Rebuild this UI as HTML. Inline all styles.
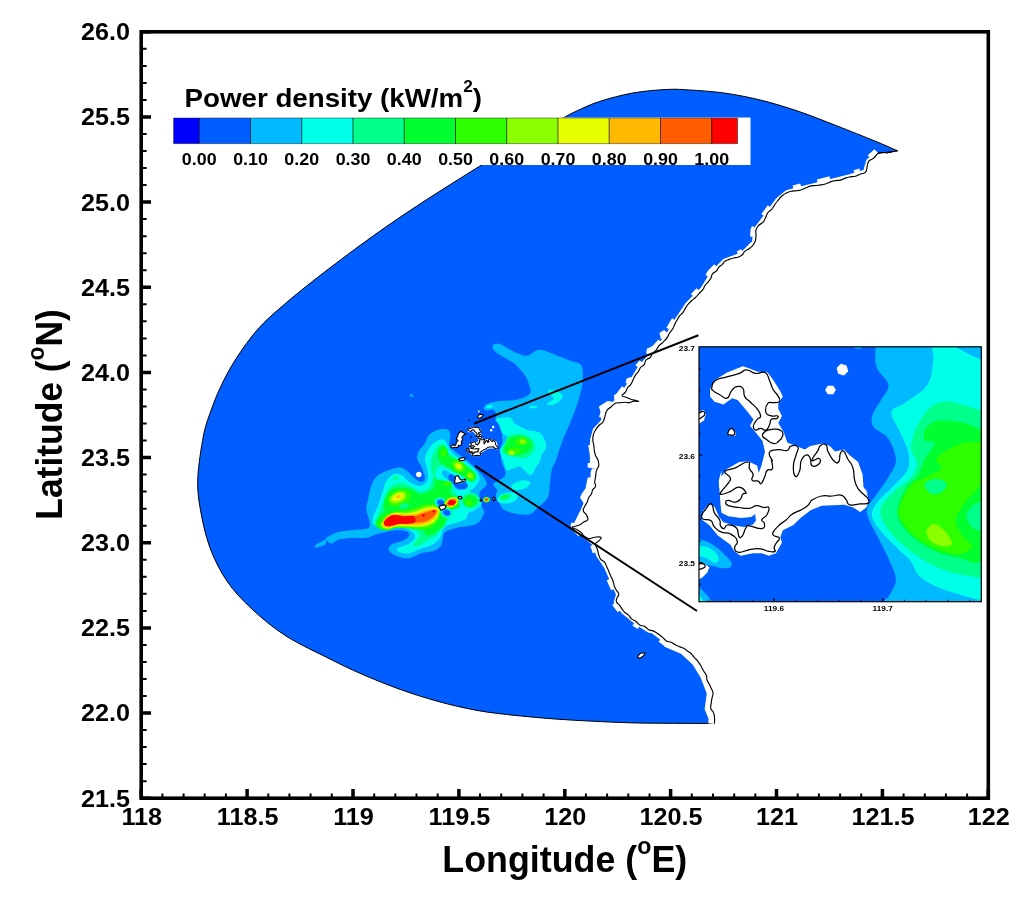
<!DOCTYPE html>
<html lang="en"><head><meta charset="utf-8"><title>Power density map</title>
<style>html,body{margin:0;padding:0;background:#fff}svg{display:block}text{font-family:"Liberation Sans",Arial,Helvetica,sans-serif;font-weight:bold;fill:#000}</style></head><body>
<svg width="1024" height="902" viewBox="0 0 1024 902">
<rect width="1024" height="902" fill="#fff"/>
<g id="map">
<path d="M897.6 150.8C893.7 149.1 884.1 144.8 874 140.7C863.9 136.5 849.3 130.7 836.9 125.9C824.5 121.1 812.2 116 799.8 111.8C787.4 107.6 775.1 103.7 762.7 100.6C750.3 97.5 737.9 95 725.5 93.2C713.1 91.4 698.3 90.5 688.4 89.9C678.5 89.3 675.5 89 666.2 89.5C656.9 90 643.9 91 632.8 93C621.7 95 608.7 98.5 599.4 101.5C590.1 104.5 583 108.1 577.1 110.8C571.2 113.5 573.3 112.5 564.1 117.5C554.9 122.5 535.8 133.1 522 141C508.2 148.9 499 154.2 481.6 165C464.2 175.8 436.5 193.1 417.5 205.6C398.5 218.1 384.2 228 367.5 240C350.8 252 331.6 266.6 317.5 277.5C303.4 288.4 292.9 297 283 305.6C273.1 314.2 265.8 320.1 258 329C250.2 337.9 242.2 349.1 236 358.8C229.8 368.4 224.8 378 220.6 386.9C216.3 395.8 213.4 403.8 210.5 412C207.6 420.2 205.5 425 203.4 436C201.3 447 198.3 465.8 197.8 478C197.3 490.2 198.3 497.5 200.3 509C202.3 520.5 205.3 535 209.7 547C214.1 559 219.9 570.7 226.9 581C233.9 591.3 242.1 599.8 251.9 609C261.8 618.2 273 627.7 286 636C299 644.3 317.7 652.8 330 659C342.3 665.2 348.5 668.3 360 673.3C371.5 678.3 386 684.3 399 689C412 693.7 425 697.8 438 701.4C451 705 464 708 477 710.4C490 712.8 503 714.1 516 715.5C529 716.9 542 718 555 719C568 720 580.9 720.6 594 721.3C607.1 721.9 620.3 722.6 633.4 722.9C646.5 723.2 659 723.2 672.5 723.3C686 723.4 707.5 723.5 714.5 723.6L714.5 717.4L710.8 708.5L713.0 693.0L706.3 675.3L697.5 660.8L684.2 648.6L666.4 640.9L653.1 630.9L648.7 629.8L636.0 621.5L624.3 612.0L616.5 602.0L618.8 594.3L613.0 581.0L606.6 566.6L598.8 555.0L595.5 544.0L588.8 538.5L575.5 526.3L583.3 510.8L588.8 497.5L595.5 486.4L596.0 473.0L598.8 465.4L595.5 455.4L592.8 440.0L595.5 430.0L603.0 422.0L606.6 411.0L615.4 403.3L622.0 395.5L633.0 380.0L640.6 367.5L656.0 350.3L667.0 337.8L675.0 323.8L687.5 305.0L703.0 289.4L712.5 273.8L725.0 261.2L742.0 255.0L754.7 242.5L756.0 230.0L765.6 217.5L778.0 200.3L787.5 192.5L806.0 187.8L831.0 181.6L850.0 176.9L865.6 172.2L868.8 161.2L878.0 153.4L897.6 150.8Z" fill="#005dff" stroke="#000" stroke-width="1" stroke-linejoin="round"/>
<path d="M315.2 545.5C316.7 544.2 323.5 540.9 325.4 539.6C327.3 538.3 324.1 539 326.4 537.7C328.7 536.4 334.3 533.1 339 531.8C343.7 530.5 349.8 530.5 354.7 529.9C359.6 529.2 366 529.4 368.4 527.9C370.8 526.4 369.6 524.1 369.3 521C369 517.9 366.5 513.3 366.4 509.4C366.2 505.5 367.6 501.6 368.4 497.7C369.2 493.8 370 489.3 371.3 485.9C372.6 482.5 373.8 479.5 376.2 477.1C378.6 474.7 382 472.9 385.9 471.3C389.8 469.7 396 467.4 399.6 467.4C403.2 467.4 404.9 469.5 407.4 471.3C409.8 473.1 412 476.3 414.3 478.1C416.6 479.9 419.3 482 421.1 482C422.9 482 424.8 480.4 425 478.1C425.2 475.8 423.4 471.6 422.1 468.4C420.8 465.1 417.7 461.5 417.2 458.6C416.7 455.7 417.8 453.4 419.1 450.8C420.4 448.2 423.4 445.6 425 443C426.6 440.4 426.9 437.3 428.9 435.2C430.8 433.1 433.8 431.3 436.7 430.3C439.6 429.3 444.2 428.7 446.5 429.3C448.8 429.9 449.9 431.6 450.4 434.2C450.9 436.8 448.8 442.1 449.4 444.9C450 447.7 452.2 448.9 454.3 450.8C456.4 452.8 459.2 454.3 462.1 456.6C465 458.9 469 461.9 471.9 464.5C474.8 467.1 477.4 469.7 479.7 472.3C482 474.9 484.4 477.9 485.5 480C486.6 482.1 487.2 483.4 486.4 485.2C485.6 487 481.7 489.1 480.5 491C479.3 492.9 479.2 494.4 479.4 496.9C479.6 499.4 480.9 503.7 481.7 506.2C482.5 508.8 484.3 509.8 484.1 512.1C483.9 514.4 482.2 518.1 480.5 520.3C478.8 522.4 477.8 523.7 473.8 525C469.8 526.3 461.1 526.6 456.2 527.9C451.4 529.2 446.9 530 444.5 532.8C442.1 535.6 443.2 541.6 441.6 544.5C440 547.4 438.2 548.9 434.8 550.4C431.4 551.9 425.3 552 421.1 553.3C416.9 554.6 413.3 557.7 409.4 558.2C405.5 558.7 401.1 557.5 397.7 556.2C394.3 555 389.9 552.4 388.9 550.4C387.9 548.4 389.4 546.1 391.8 544.5C394.2 542.9 400.6 542.2 403.5 540.6C406.4 539 409.1 536.4 409.4 534.8C409.7 533.2 408.1 531.6 405.5 530.9C402.9 530.2 398.3 530 393.8 530.5C389.2 531 382.7 532.6 378.1 533.8C373.5 535 370.6 537.1 366.4 537.7C362.2 538.4 357.3 537.4 352.7 537.7C348.1 538 342.6 538.6 339 539.6C335.4 540.6 333.4 543.4 331.2 543.6C329.1 543.8 327.4 540.5 326.4 540.6C325.4 540.8 327 543.4 325.4 544.5C323.8 545.6 318.3 547.3 316.6 547.5C314.9 547.7 313.7 546.8 315.2 545.5Z" fill="#00b9ff"/>
<path d="M493.1 344.8C494 343.8 497 343.5 499.4 344C501.8 344.5 504.1 346.4 507.2 348C510.3 349.6 514.6 352.1 518 353.4C521.4 354.7 524.6 356.2 527.5 355.8C530.4 355.4 532.7 351.9 535.3 351C537.9 350.1 539.6 349.6 543 350.3C546.4 351 551.1 353.3 555.6 355C560.1 356.7 565.8 359.1 569.7 360.5C573.6 361.9 576.9 362.2 579 363.6C581.1 365 582 365.5 582.5 369C583 372.5 583 379 582.2 384.7C581.4 390.4 579.6 396.9 577.5 403.4C575.4 409.9 572.3 417.2 569.7 423.8C567.1 430.3 564.2 436.2 561.9 442.5C559.5 448.8 557.3 456.7 555.6 461.2C553.9 465.8 552.7 465.9 551.7 470C550.7 474.1 550.4 481.2 549.7 485.8C549 490.4 549.7 494.2 547.7 497.8C545.7 501.4 540.7 505 537.7 507.7C534.7 510.4 533.3 513.2 529.8 514.2C526.3 515.2 521.2 514.6 516.9 513.9C512.6 513.2 506.9 511.7 504 509.8C501.1 507.9 500.7 504.9 499.3 502.7C497.9 500.5 496.2 499 495.8 496.9C495.4 494.8 497.4 491.9 497 489.8C496.6 487.7 492.2 486.1 493.4 484C494.6 481.9 502 479.1 504 477C506 474.9 505.6 473.7 505.2 471.1C504.8 468.6 502.3 464.4 501.6 461.7C500.9 459 501.3 457.2 501 455C500.7 452.8 499.8 450.8 500 448.8C500.2 446.7 502.2 445.1 502.5 442.5C502.8 439.9 502.2 435.9 501.7 433C501.2 430.1 500.4 427.5 499.4 425.3C498.4 423.1 496 421.6 495.5 419.8C495 418 496.7 416.1 496.2 414.4C495.8 412.7 494.7 410.3 493 409.7C491.3 409.1 487.5 410.9 486 410.5C484.5 410.1 483.4 408.5 483.8 407.3C484.1 406.1 485.8 404.4 488.4 403.4C491 402.3 495.2 401.5 499.4 401C503.6 400.5 509.2 400.9 513.4 400.3C517.6 399.7 521.5 398.5 524.4 397.2C527.3 395.9 529.8 394.6 530.6 392.5C531.4 390.4 529.8 387.3 529 384.7C528.2 382.1 527.5 379.5 526 376.9C524.5 374.3 521.8 371.4 519.7 369C517.6 366.6 516.3 364.9 513.4 362.8C510.5 360.7 505.8 358.7 502.5 356.6C499.2 354.5 495.5 352.3 493.9 350.3C492.3 348.3 492.2 345.9 493.1 344.8Z" fill="#00b9ff"/>
<path d="M413.3 396.8C413.2 396.9 413 397 412.8 397.1C412.6 397.1 412.4 397.1 412.1 397.1C411.8 397 411.5 396.9 411.2 396.7C411 396.6 410.7 396.4 410.4 396.2C410.2 396 410 395.7 409.8 395.5C409.7 395.3 409.6 395 409.6 394.8C409.6 394.6 409.6 394.4 409.7 394.2C409.8 394.1 410 394 410.2 393.9C410.4 393.9 410.6 393.9 410.9 393.9C411.2 394 411.5 394.1 411.8 394.3C412 394.4 412.3 394.6 412.6 394.8C412.8 395 413 395.3 413.2 395.5C413.3 395.7 413.4 396 413.4 396.2C413.4 396.4 413.4 396.6 413.3 396.8Z" fill="#00b9ff"/>
<path d="M374.2 525C371.8 523.2 372.5 520.5 373.2 517.2C373.9 514 376.6 509.4 378.1 505.5C379.6 501.6 380.7 497.7 382 493.8C383.3 489.8 383.9 485.3 385.9 482C387.9 478.7 391.1 475.3 393.8 474.2C396.4 473.1 399 473.9 401.6 475.2C404.2 476.5 406.5 480.2 409.4 482C412.3 483.8 416.2 485.9 419.1 485.9C422 485.9 425.5 484.3 427 482C428.5 479.7 428.2 476.2 427.9 472.3C427.6 468.4 424.8 462.5 425 458.6C425.2 454.7 426.9 451.7 428.9 448.8C430.8 445.9 434.1 442.5 436.7 441C439.3 439.5 442.6 439 444.5 440C446.4 441 446.8 444.4 448.4 446.9C450 449.3 451.7 452.4 454.3 454.7C456.9 457 460.9 458.2 464.1 460.5C467.4 462.8 471.2 465.5 473.8 468.4C476.4 471.3 479.4 475.2 479.7 478.1C480 481 477.4 483.6 475.8 485.9C474.2 488.2 469.6 490.2 469.9 491.8C470.2 493.4 475.8 493.8 477.7 495.7C479.6 497.6 481.9 501.2 481.6 503.5C481.3 505.8 478.1 507.8 475.8 509.4C473.5 511 469.6 511.7 468 513.3C466.4 514.9 468 517.5 466 519.1C464 520.7 459.8 521.7 456.2 523C452.7 524.3 447.1 524.7 444.5 527C441.9 529.3 442.6 533.8 440.6 536.7C438.7 539.6 436.1 542.5 432.8 544.5C429.6 546.5 425 546.9 421.1 548.4C417.2 549.9 413 552.6 409.4 553.3C405.8 553.9 401.6 553.1 399.6 552.3C397.7 551.5 396.1 549.8 397.7 548.4C399.3 547 406.5 545.5 409.4 543.6C412.3 541.7 414.9 538.8 415.2 536.7C415.5 534.6 413.2 532.4 411.3 530.9C409.4 529.4 407.4 528.4 403.5 527.9C399.6 527.4 392.8 528.4 387.9 527.9C383 527.4 376.6 526.8 374.2 525Z" fill="#00ffe8"/>
<path d="M496.2 419C498.1 417.7 507.2 416.7 510.3 417.5C513.4 418.3 512.1 421.7 515 423.8C517.9 425.8 523.3 428.5 527.5 430C531.7 431.5 536.9 430.4 540 433C543.1 435.6 546 441.9 546.2 445.6C546.5 449.3 542.6 452.4 541.6 455C540.6 457.6 540.9 459.2 540 461.2C539.1 463.2 537.2 465 536 467C534.8 469 534.1 471.7 533 473C531.9 474.3 530.8 475.2 529.5 475C528.2 474.8 527.1 472.9 525.5 471.5C523.9 470.1 522 467 520 466.5C518 466 515.6 467.9 513.4 468.5C511.1 469.1 508.1 470.9 506.5 470C504.9 469.1 504.9 465.3 504 462.8C503.1 460.3 501.7 457.1 501 455C500.3 452.9 499.5 452.1 500 450.3C500.5 448.5 502.5 446.1 504 444C505.5 441.9 509 439.6 508.8 437.8C508.5 436 504.1 435.1 502.5 433C500.9 430.9 500.4 427.6 499.4 425.3C498.4 423 494.4 420.3 496.2 419Z" fill="#00ffe8"/>
<path d="M549.4 389.4C551.5 389.4 560.1 392.2 561.9 394.1C563.7 395.9 561.9 398.5 560.3 400.3C558.8 402.1 554.7 404.5 552.5 405C550.3 405.5 546.8 404.5 547 403.4C547.3 402.4 553.7 400.3 554.1 398.8C554.5 397.2 550.2 395.6 549.4 394.1C548.6 392.5 547.3 389.4 549.4 389.4Z" fill="#00ffe8"/>
<path d="M537.6 407C537.6 407.2 537.4 407.4 537.2 407.6C536.9 407.7 536.5 407.9 536 408C535.5 408.1 534.9 408.2 534.3 408.3C533.7 408.3 532.9 408.3 532.3 408.3C531.7 408.2 531.1 408.1 530.6 408C530.1 407.9 529.7 407.7 529.4 407.6C529.2 407.4 529 407.2 529 407C529 406.8 529.2 406.6 529.4 406.4C529.7 406.3 530.1 406.1 530.6 406C531.1 405.9 531.7 405.8 532.3 405.7C532.9 405.7 533.7 405.7 534.3 405.7C534.9 405.8 535.5 405.9 536 406C536.5 406.1 536.9 406.3 537.2 406.4C537.4 406.6 537.6 406.8 537.6 407Z" fill="#00ffe8"/>
<path d="M492.9 405.9C493 406.1 492.9 406.4 492.7 406.6C492.5 406.9 492.2 407.1 491.9 407.4C491.5 407.6 491 407.8 490.5 407.9C490.1 408 489.5 408.1 489 408.2C488.5 408.2 488 408.2 487.6 408.1C487.2 408 486.8 407.9 486.5 407.7C486.3 407.6 486.1 407.3 486.1 407.1C486 406.9 486.1 406.6 486.3 406.4C486.5 406.1 486.8 405.9 487.1 405.6C487.5 405.4 488 405.2 488.5 405.1C488.9 405 489.5 404.9 490 404.8C490.5 404.8 491 404.8 491.4 404.9C491.8 405 492.2 405.1 492.5 405.3C492.7 405.4 492.9 405.7 492.9 405.9Z" fill="#00ffe8"/>
<path d="M517.8 496.2C518 496.9 517.7 497.8 517.2 498.6C516.7 499.4 515.8 500.3 514.7 500.9C513.6 501.6 512.1 502.3 510.7 502.7C509.3 503.1 507.6 503.4 506.1 503.5C504.6 503.6 503 503.5 501.8 503.2C500.5 503 499.4 502.5 498.6 501.9C497.8 501.3 497.3 500.6 497.2 499.8C497 499.1 497.3 498.2 497.8 497.4C498.3 496.6 499.2 495.7 500.3 495.1C501.4 494.4 502.9 493.7 504.3 493.3C505.7 492.9 507.4 492.6 508.9 492.5C510.4 492.4 512 492.5 513.2 492.8C514.5 493 515.6 493.5 516.4 494.1C517.2 494.7 517.7 495.4 517.8 496.2Z" fill="#00ffe8"/>
<path d="M530 482.7C530.1 483.3 530 484 529.5 484.7C529.1 485.4 528.3 486.2 527.3 486.9C526.4 487.5 525.1 488.2 523.8 488.7C522.5 489.2 521 489.6 519.6 489.8C518.2 490 516.8 490.1 515.6 490C514.5 489.9 513.4 489.6 512.6 489.3C511.9 488.9 511.4 488.3 511.2 487.7C511.1 487.1 511.2 486.4 511.7 485.7C512.1 485 512.9 484.2 513.9 483.5C514.8 482.9 516.1 482.2 517.4 481.7C518.7 481.2 520.2 480.8 521.6 480.6C523 480.4 524.4 480.3 525.6 480.4C526.7 480.5 527.8 480.8 528.6 481.1C529.3 481.5 529.8 482.1 530 482.7Z" fill="#00ffe8"/>
<path d="M377.1 525C375.2 523.4 377.3 520.5 378.1 517.2C378.9 514 380.7 509.4 382 505.5C383.3 501.6 384.3 497 385.9 493.8C387.5 490.5 389.2 487.7 391.8 485.9C394.4 484.1 398.4 482.8 401.6 483C404.9 483.2 408.1 485.4 411.3 486.9C414.6 488.4 418.2 491.6 421.1 491.8C424 492 426.9 490.2 428.9 487.9C430.8 485.6 432.5 481.7 432.8 478.1C433.1 474.5 430.9 470.3 430.9 466.4C430.9 462.5 431.5 458.1 432.8 454.7C434.1 451.3 436.8 447.5 438.7 445.9C440.6 444.3 442.9 443.8 444.5 444.9C446.1 446 446.4 450.4 448.4 452.7C450.4 455 453 456.3 456.2 458.6C459.5 460.9 464.7 463.8 468 466.4C471.3 469 474.8 471.9 475.8 474.2C476.8 476.5 475.4 479.4 473.8 480C472.2 480.6 468.9 479.4 466 478.1C463.1 476.8 458.9 473.9 456.2 472.3C453.6 470.7 452 468.4 450.4 468.4C448.8 468.4 446.5 470 446.5 472.3C446.5 474.6 449.1 478.8 450.4 482C451.7 485.2 453 488.9 454.3 491.8C455.6 494.7 458.2 497.2 458.2 499.6C458.2 502 455.9 504.4 454.3 506.4C452.7 508.3 449.4 509.2 448.4 511.3C447.4 513.4 449.4 516.8 448.4 519.1C447.4 521.4 444.6 522.4 442.6 525C440.7 527.6 439.3 532.2 436.7 534.8C434.1 537.4 430.2 538.6 427 540.6C423.8 542.6 419.5 545.9 417.2 546.5C414.9 547.1 413 546.1 413.3 544.5C413.6 542.9 418.5 539 419.1 536.7C419.8 534.4 419.5 532.5 417.2 530.9C414.9 529.3 410.1 527.6 405.5 527C400.9 526.4 394.5 527.3 389.8 527C385.1 526.7 379.1 526.6 377.1 525Z" fill="#00ff8b"/>
<path d="M479.9 500.6C479.9 501.7 479.6 502.9 479 503.9C478.4 504.8 477.5 505.8 476.5 506.5C475.5 507.1 474.2 507.7 472.9 507.9C471.6 508.2 470.2 508.2 468.9 507.9C467.6 507.7 466.3 507.1 465.3 506.5C464.3 505.8 463.4 504.8 462.8 503.9C462.2 502.9 461.9 501.7 461.9 500.6C461.9 499.5 462.2 498.3 462.8 497.3C463.4 496.4 464.3 495.4 465.3 494.7C466.3 494.1 467.6 493.5 468.9 493.3C470.2 493 471.6 493 472.9 493.3C474.2 493.5 475.5 494.1 476.5 494.7C477.5 495.4 478.4 496.4 479 497.3C479.6 498.3 479.9 499.5 479.9 500.6Z" fill="#00ff8b"/>
<path d="M508.8 436.2C511.4 434.8 517.6 433.6 521.2 433.9C524.9 434.2 528.3 435.9 530.6 437.8C532.9 439.8 535 443 535.3 445.6C535.6 448.2 534 451.3 532.2 453.4C530.4 455.5 527.5 457.5 524.4 458C521.3 458.5 516.8 457.3 513.4 456.5C510 455.7 505.8 454.7 504 453.4C502.2 452.1 502.2 450.6 502.5 448.8C502.8 446.9 504.6 444.6 505.6 442.5C506.6 440.4 506.1 437.7 508.8 436.2Z" fill="#00ff8b"/>
<path d="M511.4 495.4C511.5 495.8 511.4 496.3 511.1 496.8C510.9 497.3 510.3 497.8 509.7 498.3C509.1 498.7 508.3 499.1 507.5 499.5C506.7 499.8 505.7 500 504.8 500.2C504 500.3 503 500.3 502.3 500.3C501.5 500.2 500.8 500 500.3 499.7C499.9 499.4 499.5 499 499.4 498.6C499.3 498.2 499.4 497.7 499.7 497.2C499.9 496.7 500.5 496.2 501.1 495.7C501.7 495.3 502.5 494.9 503.3 494.5C504.1 494.2 505.1 494 506 493.8C506.8 493.7 507.8 493.7 508.5 493.7C509.3 493.8 510 494 510.5 494.3C510.9 494.6 511.3 495 511.4 495.4Z" fill="#00ff8b"/>
<path d="M507.9 496.1C507.9 496.3 507.9 496.6 507.7 496.8C507.6 497.1 507.3 497.4 507 497.6C506.6 497.8 506.2 498 505.7 498.2C505.3 498.4 504.7 498.5 504.2 498.6C503.8 498.7 503.3 498.7 502.9 498.7C502.4 498.7 502.1 498.6 501.8 498.4C501.6 498.3 501.4 498.1 501.3 497.9C501.3 497.7 501.3 497.4 501.5 497.2C501.6 496.9 501.9 496.6 502.2 496.4C502.6 496.2 503 496 503.5 495.8C503.9 495.6 504.5 495.5 505 495.4C505.4 495.3 505.9 495.3 506.3 495.3C506.8 495.3 507.1 495.4 507.4 495.6C507.6 495.7 507.8 495.9 507.9 496.1Z" fill="#00ff2e"/>
<path d="M398.3 478.1C398.3 478.4 398.2 478.8 398 479.1C397.9 479.3 397.6 479.6 397.3 479.8C397 480 396.6 480.2 396.3 480.2C395.9 480.3 395.5 480.3 395.1 480.2C394.8 480.2 394.4 480 394.1 479.8C393.8 479.6 393.5 479.3 393.4 479.1C393.2 478.8 393.1 478.4 393.1 478.1C393.1 477.8 393.2 477.4 393.4 477.1C393.5 476.9 393.8 476.6 394.1 476.4C394.4 476.2 394.8 476 395.1 476C395.5 475.9 395.9 475.9 396.3 476C396.6 476 397 476.2 397.3 476.4C397.6 476.6 397.9 476.9 398 477.1C398.2 477.4 398.3 477.8 398.3 478.1Z" fill="#00ff8b"/>
<path d="M375.2 524.5C375 522.4 377.2 518.4 378.8 516.2C380.3 514.1 383.8 513.6 384.6 511.6C385.4 509.6 383 507.2 383.4 504.5C383.8 501.8 385.4 497.8 387 495.2C388.6 492.6 390.3 490 392.8 488.7C395.3 487.4 399.1 487.4 402.2 487.5C405.3 487.6 408.9 488.2 411.6 489.3C414.3 490.4 416.3 493.4 418.6 494C420.9 494.6 423.2 493.6 425.6 492.8C428 492 431.1 490.9 432.7 489.3C434.3 487.7 434.6 485.2 435 483.4C435.4 481.6 434.2 479.7 435 478.8C435.8 477.8 437.8 477.4 439.7 477.6C441.6 477.8 444.5 479 446.7 480C448.9 481 452 481.8 452.6 483.4C453.2 484.9 450.4 487.3 450.2 489.3C450 491.3 450.2 493.4 451.4 495.2C452.6 496.9 455.9 497.9 457.3 499.8C458.7 501.8 460.2 505.3 459.6 506.9C459 508.5 455.7 508.4 453.8 509.2C451.8 510 449.1 510 447.9 511.6C446.7 513.2 447.3 516.3 446.7 518.6C446.1 520.9 446 523.5 444.4 525.6C442.8 527.8 439.6 529.9 437.3 531.5C435 533.1 432.2 534.4 430.3 535C428.4 535.6 426.8 535.8 425.6 535C424.4 534.2 424.9 531.3 423.3 530.3C421.7 529.3 419.4 529.5 416.2 529.1C413.1 528.7 408 528.2 404.5 528C401 527.8 398.1 527.6 395.2 528C392.3 528.4 389.6 530.1 387 530.3C384.4 530.5 381.9 530.1 379.9 529.1C377.9 528.1 375.4 526.6 375.2 524.5Z" fill="#00ff2e"/>
<path d="M439.4 447.5C440.4 446.1 442.8 445.7 444.1 445.9C445.4 446.2 446.4 447.5 447.2 449.1C448 450.6 447.4 453.6 448.8 455.3C450.1 457 452.7 457.9 455 459.2C457.3 460.5 460.1 461.4 462.8 463.1C465.5 464.8 469.2 467.4 471.4 469.4C473.6 471.3 475.4 473.2 476.1 474.8C476.7 476.5 476.1 478.4 475.3 479.5C474.5 480.7 473 482 471.4 481.9C469.8 481.7 467.9 480.1 465.9 478.8C464 477.4 461.8 475.2 459.7 474.1C457.6 472.9 455.3 472.8 453.4 471.7C451.6 470.7 450.3 469 448.8 467.8C447.2 466.6 445.6 465.9 444.1 464.7C442.5 463.5 440.4 462.5 439.4 460.8C438.3 459.1 437.8 456.7 437.8 454.5C437.8 452.3 438.3 448.9 439.4 447.5Z" fill="#00ff2e"/>
<path d="M477 501C477 501.8 476.7 502.8 476.3 503.5C475.9 504.3 475.2 505 474.4 505.5C473.6 506.1 472.5 506.5 471.6 506.7C470.6 506.8 469.4 506.8 468.4 506.7C467.5 506.5 466.4 506.1 465.6 505.5C464.8 505 464.1 504.3 463.7 503.5C463.3 502.8 463 501.8 463 501C463 500.2 463.3 499.2 463.7 498.5C464.1 497.7 464.8 497 465.6 496.5C466.4 495.9 467.5 495.5 468.4 495.3C469.4 495.2 470.6 495.2 471.6 495.3C472.5 495.5 473.6 495.9 474.4 496.5C475.2 497 475.9 497.7 476.3 498.5C476.7 499.2 477 500.2 477 501Z" fill="#00ff2e"/>
<path d="M510.3 437.8C512.6 436.8 518.1 436 521.2 436.2C524.4 436.5 527.2 437.8 529 439.4C530.8 441 532.5 443.5 532.2 445.6C532 447.7 529.9 450.3 527.5 451.9C525.1 453.5 521.4 454.8 518 455C514.6 455.2 509.5 454.4 507.2 453.4C504.9 452.4 504 450.6 504 448.8C504 446.9 506.1 444.3 507.2 442.5C508.2 440.7 508 438.8 510.3 437.8Z" fill="#00ff2e"/>
<path d="M410.6 494C411 495.1 411 496.4 410.6 497.7C410.3 498.9 409.5 500.3 408.5 501.4C407.4 502.6 406 503.7 404.5 504.5C403 505.3 401.1 506 399.5 506.3C397.8 506.7 395.9 506.8 394.4 506.5C392.9 506.3 391.4 505.8 390.3 505.1C389.3 504.3 388.4 503.3 388 502.2C387.6 501.1 387.6 499.8 388 498.5C388.3 497.3 389.1 495.9 390.1 494.8C391.2 493.6 392.6 492.5 394.1 491.7C395.6 490.9 397.5 490.2 399.1 489.9C400.8 489.5 402.7 489.4 404.2 489.7C405.7 489.9 407.2 490.4 408.3 491.1C409.3 491.9 410.2 492.9 410.6 494Z" fill="#2eff00"/>
<path d="M409 505.1C409.1 505.5 409 506 408.8 506.5C408.6 506.9 408.2 507.4 407.7 507.7C407.3 508.1 406.6 508.4 406 508.6C405.4 508.8 404.7 508.9 404 509C403.3 509 402.6 508.9 402.1 508.7C401.5 508.5 401 508.2 400.6 507.9C400.3 507.6 400 507.1 400 506.7C399.9 506.3 400 505.8 400.2 505.3C400.4 504.9 400.8 504.4 401.3 504.1C401.7 503.7 402.4 503.4 403 503.2C403.6 503 404.3 502.9 405 502.8C405.7 502.8 406.4 502.9 406.9 503.1C407.5 503.3 408 503.6 408.4 503.9C408.7 504.2 409 504.7 409 505.1Z" fill="#00ff8b"/>
<path d="M406.3 494.2C406.6 494.9 406.6 495.8 406.3 496.7C406.1 497.6 405.5 498.5 404.8 499.4C404 500.2 403 501 401.9 501.6C400.8 502.3 399.5 502.8 398.3 503.1C397 503.4 395.7 503.5 394.6 503.5C393.5 503.4 392.4 503.1 391.6 502.6C390.9 502.2 390.2 501.5 389.9 500.8C389.6 500.1 389.6 499.2 389.9 498.3C390.1 497.4 390.7 496.5 391.4 495.6C392.2 494.8 393.2 494 394.3 493.4C395.4 492.7 396.7 492.2 397.9 491.9C399.2 491.6 400.5 491.5 401.6 491.5C402.7 491.6 403.8 491.9 404.6 492.4C405.3 492.8 406 493.5 406.3 494.2Z" fill="#8bff00"/>
<path d="M403.5 494.7C403.7 495.1 403.7 495.7 403.5 496.2C403.3 496.8 402.9 497.4 402.4 498C401.9 498.5 401.1 499.1 400.4 499.6C399.6 500 398.7 500.4 397.8 500.7C397 501 396.1 501.1 395.3 501.1C394.6 501.1 393.8 501 393.3 500.8C392.7 500.5 392.3 500.2 392.1 499.7C391.9 499.3 391.9 498.7 392.1 498.2C392.3 497.6 392.7 497 393.2 496.4C393.7 495.9 394.5 495.3 395.2 494.8C396 494.4 396.9 494 397.8 493.7C398.6 493.4 399.5 493.3 400.3 493.3C401 493.3 401.8 493.4 402.3 493.6C402.9 493.9 403.3 494.2 403.5 494.7Z" fill="#e8ff00"/>
<path d="M401 495.8C401 496 401 496.2 401 496.5C400.9 496.7 400.7 497 400.5 497.2C400.3 497.4 400 497.6 399.7 497.8C399.4 498 399 498.1 398.7 498.2C398.4 498.2 398 498.2 397.7 498.2C397.4 498.2 397.1 498.1 396.9 498C396.7 497.8 396.5 497.6 396.4 497.4C396.4 497.2 396.4 497 396.4 496.7C396.5 496.5 396.7 496.2 396.9 496C397.1 495.8 397.4 495.6 397.7 495.4C398 495.2 398.4 495.1 398.7 495C399 495 399.4 495 399.7 495C400 495 400.3 495.1 400.5 495.2C400.7 495.4 400.9 495.6 401 495.8Z" fill="#ffb900"/>
<path d="M377.6 523.3C378 521.2 380.9 518.2 383.4 516.2C385.9 514.3 388.9 512.7 392.8 511.6C396.7 510.5 403 510.3 406.9 509.6C410.8 508.9 413.1 508.3 416.2 507.4C419.4 506.5 422.5 504.9 425.6 504.3C428.7 503.7 432.4 503.2 435 503.9C437.6 504.5 440.4 506.3 441.4 508.2C442.4 510.1 441.9 512.8 441.2 515.1C440.5 517.4 438.7 520.2 437.3 522.1C435.9 524 434.6 525.6 432.7 526.8C430.8 528 428.3 528.7 425.6 529.1C422.9 529.5 419.4 529.3 416.2 529.1C413.1 528.9 410.4 528.2 406.9 528C403.4 527.8 398.3 527.6 395.2 528C392.1 528.4 390.5 530.2 388.1 530.3C385.8 530.4 382.9 529.8 381.1 528.6C379.4 527.4 377.2 525.4 377.6 523.3Z" fill="#2eff00"/>
<path d="M381.1 523.9C381.8 522.2 384.9 519.3 387 517.4C389.1 515.5 390.7 513.6 394 512.7C397.3 511.9 403.2 512.8 406.9 512.3C410.6 511.8 413.1 511 416.2 510C419.4 509 422.5 507.1 425.6 506.4C428.7 505.7 432.6 505.4 435 505.9C437.4 506.4 439.5 507.9 440.1 509.6C440.7 511.3 439.4 514.2 438.5 516.2C437.6 518.3 436.6 520.5 435 522.1C433.4 523.7 431.8 524.7 429.1 525.6C426.4 526.5 422.3 527.2 418.6 527.4C414.9 527.6 410.8 526.9 406.9 526.8C403 526.7 398.3 526.4 395.2 526.8C392.1 527.2 390.2 529 388.1 529.1C386.1 529.2 384.1 528.3 382.9 527.4C381.7 526.5 380.4 525.6 381.1 523.9Z" fill="#8bff00"/>
<path d="M382 523.6C382.4 522.1 384.2 519.4 386.1 517.7C388 516 390.1 514 393.4 513.3C396.7 512.6 402 513.8 405.7 513.5C409.4 513.3 412.6 512.9 415.7 512C418.8 511.2 421.4 509.5 424.5 508.7C427.5 507.9 431.5 507.3 433.9 507.4C436.2 507.6 438 508.5 438.7 509.7C439.4 510.9 438.8 512.8 438.2 514.5C437.6 516.2 436.5 518.5 435 520C433.5 521.6 431.6 522.9 429.1 523.9C426.6 524.8 423.3 525.6 419.8 526C416.2 526.3 411.8 525.9 408 525.9C404.2 525.9 400.2 525.5 396.9 525.9C393.7 526.3 391 528.1 388.7 528.2C386.5 528.4 384.6 527.6 383.4 526.8C382.3 526 381.6 525.1 382 523.6Z" fill="#e8ff00"/>
<path d="M382.9 523.3C383.1 521.9 383.5 519.6 385.2 518C386.9 516.4 389.6 514.4 392.8 513.9C396 513.4 400.8 514.8 404.5 514.8C408.2 514.8 412 514.7 415.1 514.1C418.2 513.5 420.4 511.9 423.3 511C426.2 510.1 430.4 509.2 432.7 509C435 508.8 436.4 509.2 437.3 509.8C438.2 510.4 438.3 511.3 437.9 512.7C437.5 514.1 436.5 516.4 435 518C433.5 519.6 431.5 521 429.1 522.1C426.8 523.2 424.2 524 420.9 524.5C417.6 525 412.9 524.9 409.2 525C405.5 525.1 402 524.6 398.7 525C395.4 525.4 391.8 527.2 389.3 527.4C386.9 527.6 385.1 526.9 384 526.2C382.9 525.5 382.7 524.7 382.9 523.3Z" fill="#ffb900"/>
<path d="M384 522.1C384.5 520.7 386.4 518.6 388.1 517.4C389.8 516.2 391.3 515.3 394 515.1C396.7 514.9 401.2 516.1 404.5 516.2C407.8 516.4 411.2 516.6 413.9 516.2C416.6 515.9 418.2 514.8 420.9 513.9C423.6 513 427.9 511.7 430.3 511C432.7 510.3 433.9 509.7 435 509.8C436.1 509.9 437 510.5 436.8 511.6C436.6 512.7 435.1 514.9 433.8 516.2C432.5 517.6 430.9 518.8 429.1 519.8C427.4 520.8 425.6 521.6 423.3 522.1C421 522.6 417.8 522.4 415.1 522.7C412.4 523 409.6 523.7 406.9 523.9C404.2 524.1 401.6 523.5 398.7 523.9C395.8 524.3 391.6 525.9 389.3 526.2C387.1 526.5 386.1 526.3 385.2 525.6C384.3 524.9 383.5 523.5 384 522.1Z" fill="#ff5d00"/>
<path d="M384 522.1C384.5 520.7 386.4 518.6 388.1 517.4C389.8 516.2 391.3 515.3 394 515.1C396.7 514.9 401.2 516.1 404.5 516.2C407.8 516.4 412.1 515.3 413.9 516.2C415.7 517.2 416.3 520.8 415.1 522.1C413.9 523.4 409.6 523.6 406.9 523.9C404.2 524.2 401.6 523.5 398.7 523.9C395.8 524.3 391.6 525.9 389.3 526.2C387.1 526.5 386.1 526.3 385.2 525.6C384.3 524.9 383.5 523.5 384 522.1Z" fill="#ff0000"/>
<path d="M435.4 511.4C435.4 511.6 435.3 511.8 435.2 511.9C435.1 512.1 435 512.2 434.8 512.3C434.6 512.4 434.4 512.5 434.2 512.6C433.9 512.6 433.7 512.6 433.4 512.6C433.2 512.5 433 512.4 432.8 512.3C432.6 512.2 432.5 512.1 432.4 511.9C432.3 511.8 432.2 511.6 432.2 511.4C432.2 511.2 432.3 511 432.4 510.9C432.5 510.7 432.6 510.6 432.8 510.5C433 510.4 433.2 510.3 433.4 510.2C433.7 510.2 433.9 510.2 434.2 510.2C434.4 510.3 434.6 510.4 434.8 510.5C435 510.6 435.1 510.7 435.2 510.9C435.3 511 435.4 511.2 435.4 511.4Z" fill="#ff0000"/>
<path d="M425.1 515.2C425.1 515.4 425 515.6 424.9 515.7C424.8 515.9 424.6 516 424.4 516.1C424.2 516.2 424 516.3 423.7 516.4C423.4 516.4 423.2 516.4 422.9 516.4C422.6 516.3 422.4 516.2 422.2 516.1C422 516 421.8 515.9 421.7 515.7C421.6 515.6 421.5 515.4 421.5 515.2C421.5 515 421.6 514.8 421.7 514.7C421.8 514.5 422 514.4 422.2 514.3C422.4 514.2 422.6 514.1 422.9 514C423.2 514 423.4 514 423.7 514C424 514.1 424.2 514.2 424.4 514.3C424.6 514.4 424.8 514.5 424.9 514.7C425 514.8 425.1 515 425.1 515.2Z" fill="#ff0000"/>
<path d="M464.7 471.4C464.2 472.1 463.4 472.5 462.6 472.8C461.7 473 460.7 473 459.7 472.8C458.6 472.6 457.5 472.1 456.5 471.6C455.5 471 454.5 470.1 453.8 469.3C453 468.4 452.4 467.3 452 466.4C451.6 465.4 451.5 464.4 451.5 463.5C451.6 462.6 452 461.8 452.5 461.2C453 460.5 453.8 460.1 454.6 459.8C455.5 459.6 456.5 459.6 457.5 459.8C458.6 460 459.7 460.5 460.7 461C461.7 461.6 462.7 462.5 463.4 463.3C464.2 464.2 464.8 465.3 465.2 466.2C465.6 467.2 465.7 468.2 465.7 469.1C465.6 470 465.2 470.8 464.7 471.4Z" fill="#2eff00"/>
<path d="M462.4 469.5C462.1 469.9 461.6 470.2 461 470.4C460.5 470.5 459.8 470.6 459.2 470.5C458.5 470.3 457.8 470.1 457.2 469.7C456.6 469.3 456 468.8 455.5 468.3C455 467.7 454.6 467.1 454.4 466.5C454.2 465.8 454.1 465.2 454.1 464.6C454.2 464 454.4 463.5 454.8 463.1C455.1 462.7 455.6 462.4 456.2 462.2C456.7 462.1 457.4 462 458 462.1C458.7 462.3 459.4 462.5 460 462.9C460.6 463.3 461.2 463.8 461.7 464.3C462.2 464.9 462.6 465.5 462.8 466.1C463 466.8 463.1 467.4 463.1 468C463 468.6 462.8 469.1 462.4 469.5Z" fill="#8bff00"/>
<path d="M460.6 468C460.4 468.2 460.1 468.4 459.8 468.5C459.5 468.6 459.1 468.6 458.8 468.6C458.4 468.6 458.1 468.4 457.7 468.2C457.4 468.1 457.1 467.8 456.8 467.5C456.6 467.2 456.4 466.8 456.3 466.5C456.2 466.2 456.2 465.8 456.2 465.5C456.3 465.2 456.4 464.9 456.6 464.6C456.8 464.4 457.1 464.2 457.4 464.1C457.7 464 458.1 464 458.4 464C458.8 464 459.1 464.2 459.5 464.4C459.8 464.5 460.1 464.8 460.4 465.1C460.6 465.4 460.8 465.8 460.9 466.1C461 466.4 461 466.8 461 467.1C460.9 467.4 460.8 467.7 460.6 468Z" fill="#e8ff00"/>
<path d="M474.3 478.9C473.9 479.4 473.4 479.8 472.8 479.9C472.2 480.1 471.5 480.2 470.8 480.1C470.1 480 469.3 479.7 468.7 479.3C468 479 467.4 478.4 466.9 477.8C466.4 477.3 466 476.6 465.8 475.9C465.6 475.3 465.5 474.5 465.6 473.9C465.7 473.3 465.9 472.7 466.3 472.3C466.7 471.8 467.2 471.4 467.8 471.3C468.4 471.1 469.1 471 469.8 471.1C470.5 471.2 471.3 471.5 471.9 471.9C472.6 472.2 473.2 472.8 473.7 473.4C474.2 473.9 474.6 474.6 474.8 475.3C475 475.9 475.1 476.7 475 477.3C474.9 477.9 474.7 478.5 474.3 478.9Z" fill="#2eff00"/>
<path d="M472.6 477.5C472.4 477.8 472 478 471.7 478.1C471.4 478.3 470.9 478.3 470.5 478.2C470.1 478.2 469.7 478 469.3 477.8C468.9 477.6 468.6 477.3 468.3 477C468 476.6 467.8 476.2 467.7 475.8C467.5 475.5 467.5 475 467.6 474.7C467.6 474.3 467.8 473.9 468 473.7C468.2 473.4 468.6 473.2 468.9 473.1C469.2 472.9 469.7 472.9 470.1 473C470.5 473 470.9 473.2 471.3 473.4C471.7 473.6 472 473.9 472.3 474.2C472.6 474.6 472.8 475 472.9 475.4C473.1 475.7 473.1 476.2 473 476.5C473 476.9 472.8 477.3 472.6 477.5Z" fill="#8bff00"/>
<path d="M446.7 453C446.7 453.6 446.6 454.2 446.4 454.7C446.2 455.3 445.9 455.8 445.6 456.1C445.2 456.5 444.8 456.8 444.4 456.9C443.9 457 443.5 457 443 456.9C442.6 456.8 442.2 456.5 441.8 456.1C441.5 455.8 441.2 455.3 441 454.7C440.8 454.2 440.7 453.6 440.7 453C440.7 452.4 440.8 451.8 441 451.3C441.2 450.7 441.5 450.2 441.8 449.9C442.2 449.5 442.6 449.2 443 449.1C443.5 449 443.9 449 444.4 449.1C444.8 449.2 445.2 449.5 445.6 449.9C445.9 450.2 446.2 450.7 446.4 451.3C446.6 451.8 446.7 452.4 446.7 453Z" fill="#2eff00"/>
<path d="M473 503C473 503.4 472.9 503.9 472.6 504.3C472.4 504.7 471.9 505.1 471.5 505.3C471 505.6 470.5 505.8 469.9 505.9C469.3 506 468.7 506 468.1 505.9C467.5 505.8 467 505.6 466.5 505.3C466.1 505.1 465.6 504.7 465.4 504.3C465.1 503.9 465 503.4 465 503C465 502.6 465.1 502.1 465.4 501.7C465.6 501.3 466.1 500.9 466.5 500.7C467 500.4 467.5 500.2 468.1 500.1C468.7 500 469.3 500 469.9 500.1C470.5 500.2 471 500.4 471.5 500.7C471.9 500.9 472.4 501.3 472.6 501.7C472.9 502.1 473 502.6 473 503Z" fill="#2eff00"/>
<path d="M527.7 440.6C527.8 441.1 527.6 441.8 527.3 442.4C527 443 526.4 443.6 525.8 444.1C525.1 444.6 524.2 445 523.4 445.3C522.5 445.6 521.4 445.8 520.5 445.8C519.6 445.8 518.6 445.7 517.8 445.5C517 445.3 516.3 444.9 515.8 444.4C515.3 444 514.9 443.4 514.8 442.8C514.7 442.3 514.9 441.6 515.2 441C515.5 440.4 516.1 439.8 516.7 439.3C517.4 438.8 518.3 438.4 519.1 438.1C520 437.8 521.1 437.6 522 437.6C522.9 437.6 523.9 437.7 524.7 437.9C525.5 438.1 526.2 438.5 526.7 439C527.2 439.4 527.6 440 527.7 440.6Z" fill="#2eff00"/>
<path d="M521.1 449.9C521.2 450.5 521.1 451.1 520.7 451.7C520.4 452.3 519.8 452.9 519 453.4C518.3 453.9 517.4 454.4 516.4 454.7C515.5 455 514.3 455.2 513.3 455.2C512.3 455.3 511.3 455.2 510.4 454.9C509.6 454.7 508.8 454.3 508.3 453.9C507.8 453.5 507.4 452.9 507.3 452.3C507.2 451.7 507.3 451.1 507.7 450.5C508 449.9 508.6 449.3 509.4 448.8C510.1 448.3 511 447.8 512 447.5C512.9 447.2 514.1 447 515.1 447C516.1 446.9 517.1 447 518 447.3C518.8 447.5 519.6 447.9 520.1 448.3C520.6 448.7 521 449.3 521.1 449.9Z" fill="#2eff00"/>
<path d="M525.8 441.7C525.8 442 525.7 442.4 525.5 442.7C525.3 443.1 525 443.4 524.7 443.6C524.3 443.8 523.9 444 523.5 444C523 444.1 522.6 444.1 522.1 444C521.7 444 521.3 443.8 520.9 443.6C520.6 443.4 520.3 443.1 520.1 442.7C519.9 442.4 519.8 442 519.8 441.7C519.8 441.4 519.9 441 520.1 440.7C520.3 440.3 520.6 440 520.9 439.8C521.3 439.6 521.7 439.4 522.1 439.4C522.6 439.3 523 439.3 523.5 439.4C523.9 439.4 524.3 439.6 524.7 439.8C525 440 525.3 440.3 525.5 440.7C525.7 441 525.8 441.4 525.8 441.7Z" fill="#8bff00"/>
<path d="M514.7 452.7C514.7 453.1 514.6 453.5 514.4 453.8C514.1 454.2 513.8 454.5 513.4 454.7C513 455 512.5 455.2 512.1 455.2C511.6 455.3 511 455.3 510.5 455.2C510.1 455.2 509.6 455 509.2 454.7C508.8 454.5 508.5 454.2 508.2 453.8C508 453.5 507.9 453.1 507.9 452.7C507.9 452.3 508 451.9 508.2 451.6C508.5 451.2 508.8 450.9 509.2 450.7C509.6 450.4 510.1 450.2 510.5 450.2C511 450.1 511.6 450.1 512.1 450.2C512.5 450.2 513 450.4 513.4 450.7C513.8 450.9 514.1 451.2 514.4 451.6C514.6 451.9 514.7 452.3 514.7 452.7Z" fill="#8bff00"/>
<path d="M513.4 453.4C513.4 453.6 513.3 453.8 513.3 453.9C513.2 454.1 513 454.2 512.8 454.3C512.7 454.4 512.4 454.5 512.2 454.6C512 454.6 511.8 454.6 511.6 454.6C511.4 454.5 511.1 454.4 511 454.3C510.8 454.2 510.6 454.1 510.5 453.9C510.5 453.8 510.4 453.6 510.4 453.4C510.4 453.2 510.5 453 510.5 452.9C510.6 452.7 510.8 452.6 511 452.5C511.1 452.4 511.4 452.3 511.6 452.2C511.8 452.2 512 452.2 512.2 452.2C512.4 452.3 512.7 452.4 512.8 452.5C513 452.6 513.2 452.7 513.3 452.9C513.3 453 513.4 453.2 513.4 453.4Z" fill="#e8ff00"/>
<path d="M436.2 469.4C436.9 468.1 438.1 466.6 439.4 466.2C440.7 465.9 442.5 466.4 444.1 467C445.6 467.7 447.2 469.1 448.8 470.2C450.3 471.2 451.6 472.2 453.4 473.3C455.3 474.3 457.5 475 459.7 476.4C461.9 477.8 465 480.1 466.7 481.5C468.5 482.9 470 483.6 470.2 485C470.4 486.4 469.4 489 467.9 490.1C466.4 491.2 463.4 491.6 461.2 491.6C459.1 491.6 456.5 491.2 455 490.1C453.5 489 453 486.3 452.5 485C452 483.7 452.8 482.8 451.9 482.2C451 481.5 448.9 481.4 447.2 481.1C445.5 480.8 443.5 480.7 441.7 480.3C439.9 479.9 437.3 479.8 436.2 478.8C435.2 477.7 435.3 475.6 435.3 474.1C435.3 472.5 435.6 470.7 436.2 469.4Z" fill="#00ffe8"/>
<path d="M443.3 470.2C444.2 469.8 445.8 470.3 447.2 470.9C448.6 471.6 450.1 473 451.9 474.1C453.7 475.2 455.8 476.2 458.1 477.6C460.5 478.9 464.2 480.9 465.9 482.3C467.7 483.6 468.4 484.6 468.4 485.8C468.5 486.9 467.6 488.4 466.1 489.1C464.6 489.8 461.5 490 459.7 489.9C457.8 489.8 456 489.5 455 488.4C454 487.4 454.5 484.9 453.4 483.6C452.4 482.2 450.3 481.4 448.8 480.3C447.2 479.2 445.2 478.4 444.1 477.2C442.9 476 441.8 474.5 441.7 473.3C441.6 472.1 442.4 470.5 443.3 470.2Z" fill="#00b9ff"/>
<path d="M448.8 475.6C449.3 474.7 450.7 473.9 451.9 474.2C453 474.5 455.3 476.3 455.8 477.6C456.3 478.9 454.3 481 455 482C455.7 483 457.9 483.5 459.7 483.6C461.5 483.7 464.6 482.5 465.9 482.9C467.2 483.3 467.6 484.8 467.5 485.8C467.4 486.8 466.5 488.2 465.2 488.8C463.9 489.3 461.4 489.2 459.7 488.9C458 488.6 456.3 487.9 455 486.7C453.7 485.5 452.9 483.1 451.9 481.9C450.8 480.7 449.3 480.6 448.8 479.5C448.2 478.5 448.2 476.5 448.8 475.6Z" fill="#005dff"/>
<path d="M450.7 482.7C450.8 483 450.7 483.3 450.6 483.7C450.4 484 450.2 484.4 449.8 484.7C449.5 485 449 485.3 448.5 485.5C448.1 485.7 447.5 485.8 447 485.9C446.5 485.9 445.9 485.9 445.5 485.8C445 485.8 444.6 485.6 444.3 485.4C444 485.1 443.8 484.8 443.7 484.5C443.6 484.2 443.7 483.9 443.8 483.5C444 483.2 444.2 482.8 444.6 482.5C444.9 482.2 445.4 481.9 445.9 481.7C446.3 481.5 446.9 481.4 447.4 481.3C447.9 481.3 448.5 481.3 448.9 481.4C449.4 481.4 449.8 481.6 450.1 481.8C450.4 482.1 450.6 482.4 450.7 482.7Z" fill="#2eff00"/>
<path d="M447.5 505.2C447.2 505.9 446.7 506.6 446 507.2C445.4 507.7 444.5 508.1 443.6 508.3C442.6 508.4 441.6 508.5 440.6 508.3C439.6 508.1 438.5 507.7 437.6 507.2C436.8 506.7 435.9 506 435.4 505.3C434.8 504.5 434.3 503.7 434.2 502.8C434 502 434.1 501.1 434.3 500.4C434.6 499.7 435.1 499 435.8 498.4C436.4 497.9 437.3 497.5 438.2 497.3C439.2 497.2 440.2 497.1 441.2 497.3C442.2 497.5 443.3 497.9 444.2 498.4C445 498.9 445.9 499.6 446.4 500.3C447 501.1 447.5 501.9 447.6 502.8C447.8 503.6 447.7 504.5 447.5 505.2Z" fill="#00ff8b"/>
<path d="M446.5 504.9C446.3 505.5 445.9 506.1 445.3 506.5C444.8 506.9 444 507.2 443.2 507.4C442.4 507.5 441.5 507.5 440.7 507.4C439.8 507.2 438.9 506.9 438.1 506.5C437.4 506 436.7 505.4 436.2 504.8C435.7 504.2 435.3 503.5 435.2 502.8C435 502.1 435 501.4 435.3 500.7C435.5 500.1 435.9 499.5 436.5 499.1C437 498.7 437.8 498.4 438.6 498.2C439.4 498.1 440.3 498.1 441.1 498.2C442 498.4 442.9 498.7 443.7 499.1C444.4 499.6 445.1 500.2 445.6 500.8C446.1 501.4 446.5 502.1 446.6 502.8C446.8 503.5 446.8 504.2 446.5 504.9Z" fill="#00ffe8"/>
<path d="M445.4 504.4C445.2 504.9 444.9 505.4 444.4 505.7C444 506.1 443.4 506.3 442.7 506.5C442.1 506.6 441.4 506.6 440.7 506.5C440 506.3 439.3 506.1 438.7 505.7C438.1 505.4 437.5 504.9 437.1 504.4C436.7 503.9 436.4 503.3 436.3 502.8C436.2 502.2 436.2 501.6 436.4 501.2C436.6 500.7 436.9 500.2 437.4 499.9C437.8 499.5 438.4 499.3 439.1 499.1C439.7 499 440.4 499 441.1 499.1C441.8 499.3 442.5 499.5 443.1 499.9C443.7 500.2 444.3 500.7 444.7 501.2C445.1 501.7 445.4 502.3 445.5 502.8C445.6 503.4 445.6 504 445.4 504.4Z" fill="#00b9ff"/>
<path d="M444.3 504C444.2 504.4 443.9 504.7 443.6 505C443.2 505.2 442.8 505.4 442.3 505.5C441.9 505.6 441.3 505.6 440.8 505.5C440.3 505.4 439.7 505.2 439.3 504.9C438.8 504.7 438.4 504.3 438.1 503.9C437.8 503.6 437.6 503.1 437.5 502.8C437.4 502.4 437.4 501.9 437.5 501.6C437.6 501.2 437.9 500.9 438.2 500.6C438.6 500.4 439 500.2 439.5 500.1C439.9 500 440.5 500 441 500.1C441.5 500.2 442.1 500.4 442.5 500.7C443 500.9 443.4 501.3 443.7 501.7C444 502 444.2 502.5 444.3 502.8C444.4 503.2 444.4 503.7 444.3 504Z" fill="#005dff"/>
<path d="M453.3 515.1C453 515.8 452.5 516.5 451.8 517.1C451.2 517.6 450.3 518 449.4 518.2C448.4 518.3 447.4 518.4 446.4 518.2C445.4 518 444.3 517.6 443.4 517.1C442.6 516.6 441.7 515.9 441.2 515.2C440.6 514.4 440.1 513.6 440 512.7C439.8 511.9 439.9 511 440.1 510.3C440.4 509.6 440.9 508.9 441.6 508.3C442.2 507.8 443.1 507.4 444 507.2C445 507.1 446 507 447 507.2C448 507.4 449.1 507.8 450 508.3C450.8 508.8 451.7 509.5 452.2 510.2C452.8 511 453.3 511.8 453.4 512.7C453.6 513.5 453.5 514.4 453.3 515.1Z" fill="#00ff8b"/>
<path d="M452.3 514.8C452.1 515.4 451.7 516 451.1 516.4C450.6 516.8 449.8 517.1 449 517.3C448.2 517.4 447.3 517.4 446.5 517.3C445.6 517.1 444.7 516.8 443.9 516.4C443.2 515.9 442.5 515.3 442 514.7C441.5 514.1 441.1 513.4 441 512.7C440.8 512 440.8 511.3 441.1 510.6C441.3 510 441.7 509.4 442.3 509C442.8 508.6 443.6 508.3 444.4 508.1C445.2 508 446.1 508 446.9 508.1C447.8 508.3 448.7 508.6 449.5 509C450.2 509.5 450.9 510.1 451.4 510.7C451.9 511.3 452.3 512 452.4 512.7C452.6 513.4 452.6 514.1 452.3 514.8Z" fill="#00ffe8"/>
<path d="M451.2 514.3C451 514.8 450.7 515.3 450.2 515.6C449.8 516 449.2 516.2 448.5 516.4C447.9 516.5 447.2 516.5 446.5 516.4C445.8 516.2 445.1 516 444.5 515.6C443.9 515.3 443.3 514.8 442.9 514.3C442.5 513.8 442.2 513.2 442.1 512.7C442 512.1 442 511.5 442.2 511.1C442.4 510.6 442.7 510.1 443.2 509.8C443.6 509.4 444.2 509.2 444.9 509C445.5 508.9 446.2 508.9 446.9 509C447.6 509.2 448.3 509.4 448.9 509.8C449.5 510.1 450.1 510.6 450.5 511.1C450.9 511.6 451.2 512.2 451.3 512.7C451.4 513.3 451.4 513.9 451.2 514.3Z" fill="#00b9ff"/>
<path d="M450.1 513.9C450 514.3 449.7 514.6 449.4 514.9C449 515.1 448.6 515.3 448.1 515.4C447.7 515.5 447.1 515.5 446.6 515.4C446.1 515.3 445.5 515.1 445.1 514.8C444.6 514.6 444.2 514.2 443.9 513.8C443.6 513.5 443.4 513 443.3 512.7C443.2 512.3 443.2 511.8 443.3 511.5C443.4 511.1 443.7 510.8 444 510.5C444.4 510.3 444.8 510.1 445.3 510C445.7 509.9 446.3 509.9 446.8 510C447.3 510.1 447.9 510.3 448.3 510.6C448.8 510.8 449.2 511.2 449.5 511.6C449.8 511.9 450 512.4 450.1 512.7C450.2 513.1 450.2 513.6 450.1 513.9Z" fill="#005dff"/>
<path d="M458.8 499.1C459.1 499.9 459.2 500.8 459.1 501.7C458.9 502.5 458.5 503.5 457.9 504.4C457.3 505.2 456.4 506.1 455.4 506.7C454.5 507.3 453.3 507.9 452.2 508.2C451.1 508.5 449.9 508.7 448.8 508.6C447.8 508.5 446.8 508.2 446 507.7C445.2 507.3 444.6 506.6 444.2 505.9C443.9 505.1 443.8 504.2 443.9 503.3C444.1 502.5 444.5 501.5 445.1 500.6C445.7 499.8 446.6 498.9 447.6 498.3C448.5 497.7 449.7 497.1 450.8 496.8C451.9 496.5 453.1 496.3 454.2 496.4C455.2 496.5 456.2 496.8 457 497.3C457.8 497.7 458.4 498.4 458.8 499.1Z" fill="#2eff00"/>
<path d="M457.8 499.5C458.1 500.2 458.2 501 458.1 501.7C458 502.5 457.6 503.3 457 504.1C456.5 504.8 455.7 505.5 454.9 506.1C454.1 506.6 453 507.1 452.1 507.4C451.1 507.7 450 507.8 449.1 507.7C448.2 507.7 447.3 507.4 446.7 507.1C446 506.7 445.4 506.1 445.2 505.5C444.9 504.8 444.8 504 444.9 503.3C445 502.5 445.4 501.7 446 500.9C446.5 500.2 447.3 499.5 448.1 498.9C448.9 498.4 450 497.9 450.9 497.6C451.9 497.3 453 497.2 453.9 497.3C454.8 497.3 455.7 497.6 456.3 497.9C457 498.3 457.6 498.9 457.8 499.5Z" fill="#8bff00"/>
<path d="M457.1 499.9C457.4 500.4 457.4 501.1 457.3 501.8C457.2 502.4 456.8 503.1 456.4 503.8C455.9 504.4 455.2 505.1 454.4 505.5C453.7 506 452.8 506.5 451.9 506.7C451.1 507 450.1 507.1 449.4 507C448.6 507 447.8 506.8 447.2 506.5C446.6 506.2 446.1 505.7 445.9 505.1C445.6 504.6 445.6 503.9 445.7 503.2C445.8 502.6 446.2 501.9 446.6 501.2C447.1 500.6 447.8 499.9 448.6 499.5C449.3 499 450.2 498.5 451.1 498.3C451.9 498 452.9 497.9 453.6 498C454.4 498 455.2 498.2 455.8 498.5C456.4 498.8 456.9 499.3 457.1 499.9Z" fill="#e8ff00"/>
<path d="M456.6 500.2C456.8 500.6 456.9 501.2 456.7 501.8C456.6 502.3 456.3 503 455.9 503.5C455.4 504.1 454.8 504.6 454.2 505.1C453.5 505.5 452.7 505.9 451.9 506.1C451.2 506.3 450.3 506.5 449.6 506.4C449 506.4 448.3 506.2 447.8 506C447.2 505.7 446.8 505.3 446.6 504.8C446.4 504.4 446.3 503.8 446.5 503.2C446.6 502.7 446.9 502 447.3 501.5C447.8 500.9 448.4 500.4 449 499.9C449.7 499.5 450.5 499.1 451.3 498.9C452 498.7 452.9 498.5 453.6 498.6C454.2 498.6 454.9 498.8 455.4 499C456 499.3 456.4 499.7 456.6 500.2Z" fill="#ffb900"/>
<path d="M456.1 500.4C456.3 500.8 456.4 501.3 456.3 501.8C456.1 502.3 455.8 502.9 455.5 503.3C455.1 503.8 454.5 504.3 453.9 504.7C453.3 505.1 452.6 505.4 451.9 505.6C451.3 505.8 450.5 505.9 449.9 505.9C449.3 505.9 448.7 505.8 448.2 505.5C447.8 505.3 447.4 505 447.3 504.6C447.1 504.2 447 503.7 447.1 503.2C447.3 502.7 447.6 502.1 447.9 501.7C448.3 501.2 448.9 500.7 449.5 500.3C450.1 499.9 450.8 499.6 451.5 499.4C452.1 499.2 452.9 499.1 453.5 499.1C454.1 499.1 454.7 499.2 455.2 499.5C455.6 499.7 456 500 456.1 500.4Z" fill="#ff5d00"/>
<path d="M447.4 504 L450 499.6 L456.4 501.4 L453.6 505.4Z" fill="#ff0000"/>
<path d="M490.1 499.7C490.1 500.1 490 500.6 489.7 500.9C489.5 501.3 489.2 501.6 488.7 501.9C488.3 502.1 487.8 502.3 487.3 502.4C486.8 502.5 486.2 502.5 485.7 502.4C485.2 502.3 484.7 502.1 484.3 501.9C483.8 501.6 483.5 501.3 483.3 500.9C483 500.6 482.9 500.1 482.9 499.7C482.9 499.3 483 498.8 483.3 498.5C483.5 498.1 483.8 497.8 484.3 497.5C484.7 497.3 485.2 497.1 485.7 497C486.2 496.9 486.8 496.9 487.3 497C487.8 497.1 488.3 497.3 488.7 497.5C489.2 497.8 489.5 498.1 489.7 498.5C490 498.8 490.1 499.3 490.1 499.7Z" fill="#00ff2e"/>
<path d="M489.3 499.7C489.3 500 489.2 500.3 489 500.6C488.8 500.9 488.6 501.2 488.2 501.3C487.9 501.5 487.5 501.7 487.1 501.7C486.7 501.8 486.3 501.8 485.9 501.7C485.5 501.7 485.1 501.5 484.8 501.3C484.4 501.2 484.2 500.9 484 500.6C483.8 500.3 483.7 500 483.7 499.7C483.7 499.4 483.8 499.1 484 498.8C484.2 498.5 484.4 498.2 484.8 498.1C485.1 497.9 485.5 497.7 485.9 497.7C486.3 497.6 486.7 497.6 487.1 497.7C487.5 497.7 487.9 497.9 488.2 498.1C488.6 498.2 488.8 498.5 489 498.8C489.2 499.1 489.3 499.4 489.3 499.7Z" fill="#8bff00"/>
<path d="M488.6 499.7C488.6 499.9 488.5 500.2 488.4 500.4C488.3 500.5 488 500.7 487.8 500.9C487.6 501 487.3 501.1 487 501.2C486.7 501.2 486.3 501.2 486 501.2C485.7 501.1 485.4 501 485.2 500.9C485 500.7 484.7 500.5 484.6 500.4C484.5 500.2 484.4 499.9 484.4 499.7C484.4 499.5 484.5 499.2 484.6 499C484.7 498.9 485 498.7 485.2 498.5C485.4 498.4 485.7 498.3 486 498.2C486.3 498.2 486.7 498.2 487 498.2C487.3 498.3 487.6 498.4 487.8 498.5C488 498.7 488.3 498.9 488.4 499C488.5 499.2 488.6 499.5 488.6 499.7Z" fill="#ffb900"/>
<path d="M487.8 499.7C487.8 499.8 487.8 500 487.7 500.1C487.6 500.2 487.5 500.3 487.3 500.4C487.2 500.5 487 500.5 486.8 500.6C486.6 500.6 486.4 500.6 486.2 500.6C486 500.5 485.8 500.5 485.7 500.4C485.5 500.3 485.4 500.2 485.3 500.1C485.2 500 485.2 499.8 485.2 499.7C485.2 499.6 485.2 499.4 485.3 499.3C485.4 499.2 485.5 499.1 485.7 499C485.8 498.9 486 498.9 486.2 498.8C486.4 498.8 486.6 498.8 486.8 498.8C487 498.9 487.2 498.9 487.3 499C487.5 499.1 487.6 499.2 487.7 499.3C487.8 499.4 487.8 499.6 487.8 499.7Z" fill="#ff0000"/>
<path d="M877 152.2 L867.4 160.4 L864.6 171 L849.6 175.4 L830.6 180 L805.6 186.2 L786.8 191 L776.8 199.2 L764.3 216.5 L754.5 229.4 L753.3 241.7 L741.1 253.6 L724.1 259.9 L711.2 272.8 L701.8 288.4 L686.3 304 L673.6 322.9 L665.7 336.9 L654.8 349.2 L639.3 366.5 L631.7 379.1 L620.7 394.5 L614.3 402.2 L605.3 410.1 L601.6 421.2 L594.1 429.2 L591.2 440 L593.9 455.8 L597.2 465.4 L594.4 472.8 L594 485.9 L587.4 496.8 L581.8 510.1 L573.9 526.6 L587.7 539.7 L594.1 544.8 L597.4 555.7 L605.2 567.4 L611.5 581.6 L617.2 594.6 L615 602.5 L623.2 613.1 L635.1 622.8 L647.9 631.2 L652.2 632.3 L665.6 642.3 L683.3 649.9 L696.3 661.8 L704.9 676 L711.4 693.2 L709.2 708.6 L712.9 717.8 L712.9 723.6" fill="none" stroke="#fff" stroke-width="7.6" stroke-dasharray="9 19 6 25 13 17 8 30 11 15" stroke-linecap="butt" stroke-linejoin="bevel"/>
<path d="M878 153.4 L868.8 161.2 L865.6 172.2 L850 176.9 L831 181.6 L806 187.8 L787.5 192.5 L778 200.3 L765.6 217.5 L756 230 L754.7 242.5 L742 255 L725 261.2 L712.5 273.8 L703 289.4 L687.5 305 L675 323.8 L667 337.8 L656 350.3 L640.6 367.5 L633 380 L622 395.5 L615.4 403.3 L606.6 411 L603 422 L595.5 430 L592.8 440 L595.5 455.4 L598.8 465.4 L596 473 L595.5 486.4 L588.8 497.5 L583.3 510.8 L575.5 526.3 L588.8 538.5 L595.5 544 L598.8 555 L606.6 566.6 L613 581 L618.8 594.3 L616.5 602 L624.3 612 L636 621.5 L648.7 629.8 L653.1 630.9 L666.4 640.9 L684.2 648.6 L697.5 660.8 L706.3 675.3 L713 693 L710.8 708.5 L714.5 717.4 L714.5 723.6" fill="none" stroke="#fff" stroke-width="5.4" stroke-linejoin="round"/>
<path d="M665.4 643.3 L682.8 650.8 L695.5 662.5 L704 676.4 L710.4 693.3 L708.2 708.7 L712 718 L711.9 723.6" fill="none" stroke="#fff" stroke-width="7" stroke-linejoin="round"/>
<path d="M601 413.3 L598.8 406.6 L607.7 401.1 L615.4 402.2 L618.1 393.7 L624.3 395.5 L615.4 404.4 L606.6 411Z" fill="#fff"/>
<path d="M589.9 442.1 L594.4 442.1 L596.6 455.4 L598.8 465.4 L595.5 468.7 L587.7 467.6 L587.7 463.1 L589.9 463.1Z" fill="#fff"/>
<path d="M587.7 477.6 L596.6 477.6 L595.5 486.4 L588.8 497.5 L584.4 504.2 L580 497.5 L582.2 493.1 L585.5 488.6Z" fill="#fff"/>
<path d="M580 517.5 L587.7 519.7 L575.5 526.3 L572.2 527.5 L575.5 521.9Z" fill="#fff"/>
<path d="M659.4 333.1 L664.1 330 L669.4 334.7 L665.6 340 L660.9 338.8Z" fill="#fff"/>
<path d="M646.9 348.8 L654.7 345 L658.8 348.8 L651.6 355.6 L646.2 353.4Z" fill="#fff"/>
<path d="M626.6 378.4 L631.2 376.9 L633.8 380 L629.7 384.7 L625.6 383.1Z" fill="#fff"/>
<path d="M614.1 395 L620.3 393.1 L623.4 398.1 L618.8 400.6 L614.1 399.4Z" fill="#fff"/>
<path d="M897.6 150.8C896.5 151 895 151.3 892.7 151.8C890.5 152.3 890.2 152.6 887.9 152.8C885.6 152.9 885.2 152.3 882.9 152.5C880.6 152.6 880.1 152.1 878 153.4C875.9 154.7 876.1 156.1 873.9 158C871.8 159.8 870.3 159.2 868.8 161.2C867.2 163.3 867.8 164.2 867.1 166.7C866.4 169.3 867.1 170.5 865.6 172.2C864.1 173.9 862.8 173.1 860.5 174C858.1 175 857.9 175.5 855.5 176.2C853 176.9 852.4 176.5 850 176.9C847.6 177.3 847.4 177.3 845.2 178.1C843.1 178.8 842.9 179.6 840.7 180.1C838.5 180.7 838.1 180.2 835.8 180.6C833.5 180.9 833.2 180.9 831 181.6C828.8 182.3 828.5 182.9 826.2 183.7C823.9 184.4 823.6 184.5 821.2 184.9C818.8 185.3 818.5 185.2 816 185.5C813.6 185.7 813.2 185.4 810.8 185.9C808.5 186.5 808.2 186.9 806 187.8C803.8 188.7 803.7 189 801.6 189.7C799.4 190.4 799.1 190.4 796.9 190.7C794.7 191 794.3 190.7 792.1 191.1C789.9 191.5 789.8 191.4 787.5 192.5C785.2 193.6 784.4 193.9 782.2 195.7C780 197.5 779.7 198.2 778 200.3C776.3 202.4 776.2 202.5 774.8 204.5C773.4 206.5 773.6 207.1 772 209C770.4 210.9 769.4 210.7 767.9 212.6C766.4 214.6 766.7 215.3 765.6 217.5C764.5 219.7 764.7 220.4 763.1 222.2C761.5 224.1 760.3 223.6 758.6 225.4C757 227.2 756.6 227.9 756 230C755.4 232.1 756 232.2 756 234.2C755.9 236.2 756.1 236.5 755.8 238.4C755.5 240.3 755.6 240.7 754.7 242.5C753.8 244.3 753.5 244.6 752.1 246.2C750.6 247.7 750.3 247.8 748.6 249C746.9 250.2 746.3 250 744.7 251.4C743.2 252.8 743.6 253.7 742 255C740.4 256.3 740 256.5 738 257.2C736 257.9 735.5 257.4 733.4 258C731.4 258.5 731.1 258.7 729.2 259.4C727.2 260.2 726.7 260.1 725 261.2C723.3 262.4 723.5 263.1 722.1 264.6C720.6 266 720 265.9 718.7 267.4C717.3 269 717.7 269.8 716.2 271.2C714.8 272.7 713.8 272.1 712.5 273.8C711.2 275.4 711.9 276.2 710.9 278.1C709.9 280 709.6 280.2 708.3 281.9C706.9 283.6 706.3 283.5 705.1 285.3C703.8 287.1 704.4 287.5 703 289.4C701.6 291.3 701 291.5 699.2 293.4C697.5 295.3 697.4 295.7 695.5 297.5C693.7 299.2 693.1 299.2 691.3 301C689.4 302.7 688.9 303.2 687.5 305C686.1 306.8 686.2 307 685.1 308.8C684 310.6 684.1 311.1 682.8 312.7C681.5 314.4 680.8 314.3 679.5 315.9C678.2 317.6 678.2 318 677.2 319.8C676.1 321.6 676 321.7 675 323.8C674 325.8 674.1 326.5 672.8 328.7C671.5 330.9 670.9 330.9 669.5 333C668.2 335.2 668.5 335.7 667 337.8C665.5 339.9 665.1 340.1 663.3 341.9C661.5 343.8 660.8 343.7 659.1 345.6C657.4 347.6 657.5 348.5 656 350.3C654.5 352.1 653.9 351.8 652.6 353.4C651.2 355.1 651.7 355.9 650.2 357.5C648.6 359 647.4 358.3 646 360C644.7 361.6 645.5 362.8 644.2 364.6C643 366.3 642 365.8 640.6 367.5C639.2 369.2 639.5 369.9 638.2 371.8C636.9 373.6 636.3 373.6 635.1 375.6C633.9 377.5 634 378 633 380C632 382 632.1 382.5 630.8 384.3C629.5 386.1 628.8 385.9 627.5 387.8C626.3 389.6 626.8 390.4 625.5 392.2C624.2 394 621.9 394.3 622 395.5C622.1 396.7 624.2 396.5 626.1 397.3C628 398.1 628.2 398.3 630.2 399C632.1 399.7 632.5 399.6 634.5 400.1C636.5 400.7 638.8 401.3 638.7 401.5C638.6 401.7 636.2 400.9 634 401.1C631.8 401.4 631.6 402.3 629.4 402.6C627.2 402.8 626.9 402.2 624.7 402.2C622.5 402.2 622.2 402.5 620 402.8C617.9 403 617.5 402.3 615.4 403.3C613.3 404.3 612.9 405.2 610.9 407C608.8 408.8 608 408.8 606.6 411C605.2 413.2 605.7 414 604.9 416.5C604 419.1 604.4 419.9 603 422C601.6 424.1 600.5 423.7 598.8 425.5C597 427.4 596.8 427.8 595.5 430C594.2 432.2 593.9 432.4 593.3 434.8C592.7 437.1 592.7 437.6 592.8 440C592.9 442.4 593.4 442.7 593.8 445.1C594.1 447.5 593.9 447.9 594.3 450.3C594.7 452.7 594.6 453.1 595.5 455.4C596.4 457.7 597.2 457.8 598 460.1C598.8 462.5 599 463.3 598.8 465.4C598.6 467.5 597.7 467.3 597 469.1C596.4 470.8 596.3 471 596 473C595.7 475 595.8 475.4 595.5 477.5C595.2 479.5 594.7 479.8 594.7 481.9C594.7 484 596 484.6 595.5 486.4C595 488.2 593.7 488 592.7 489.8C591.8 491.5 592.3 492.2 591.4 494C590.5 495.8 589.8 495.6 588.8 497.5C587.8 499.4 588.1 500 587.2 502C586.2 504.1 585.7 504.2 584.8 506.2C583.9 508.3 582.9 508.8 583.3 510.8C583.7 512.8 585.3 512.8 586.4 514.8C587.4 516.9 588.3 518 587.7 519.7C587.1 521.4 585.5 520.8 583.7 522C581.8 523.1 581.8 523.7 579.9 524.7C578 525.7 577.3 525.6 575.5 526.3C573.7 527 571.7 526.7 572 527.5C572.3 528.3 574.5 528.5 576.6 529.6C578.7 530.7 579.1 530.7 580.9 532.3C582.7 533.8 582.5 534.7 584.3 536.2C586.2 537.7 586.3 538.3 588.8 538.5C591.3 538.7 592 537.5 594.8 537.2C597.7 537 600.1 536.5 601 537.4C601.9 538.3 599.9 539.5 598.6 541C597.4 542.6 595.8 542 595.5 544C595.2 546 596.6 546.9 597.4 549.4C598.1 552 598 552.7 598.8 555C599.6 557.3 599.4 557.6 600.8 559.3C602.2 561 603.3 560.6 604.7 562.3C606.1 564 605.6 564.5 606.6 566.6C607.6 568.7 607.9 569.1 608.8 571.4C609.8 573.6 609.8 574 610.8 576.2C611.8 578.5 612.2 578.8 613 581C613.8 583.2 613.5 583.6 614.2 585.7C615 587.9 615.2 588.1 616.3 590.1C617.3 592.1 618.6 592.5 618.8 594.3C619 596.1 617.5 596.1 617 597.9C616.4 599.7 615.9 600.3 616.5 602C617.1 603.7 618.2 603.5 619.4 605.1C620.7 606.6 620.7 606.9 621.8 608.6C623 610.2 622.8 610.5 624.3 612C625.8 613.5 626.7 613.3 628.4 614.9C630.1 616.6 629.8 617.4 631.6 618.9C633.4 620.5 634.1 620.1 636 621.5C637.9 622.9 637.7 623.9 639.7 625C641.8 626.2 642.8 625.3 644.8 626.4C646.9 627.6 646.8 628.8 648.7 629.8C650.6 630.8 650.9 630 653.1 630.9C655.3 631.8 655.8 632.3 657.9 633.7C660.1 635.2 660.3 635.5 662.3 637.1C664.3 638.8 664.4 639.7 666.4 640.9C668.4 642.1 669 641.4 671.1 642.3C673.1 643.2 673.3 643.7 675.3 644.7C677.3 645.8 677.6 645.9 679.7 646.8C681.8 647.7 682.3 647.6 684.2 648.6C686.1 649.6 686.1 650 687.8 651.3C689.6 652.6 690 652.5 691.5 654C693 655.4 692.9 656 694.3 657.6C695.7 659.2 696 659 697.5 660.8C699 662.6 699.3 663.2 700.7 665.5C702 667.8 701.9 668.2 703.3 670.5C704.6 672.8 705.4 673.1 706.3 675.3C707.2 677.5 706.4 677.9 707.1 680C707.8 682.1 708.3 682.3 709.3 684.3C710.3 686.3 710.4 686.6 711.3 688.6C712.2 690.6 712.8 690.8 713 693C713.2 695.2 712.5 695.7 712 698.1C711.6 700.5 711.5 700.9 711.2 703.3C710.9 705.7 710.3 706.3 710.8 708.5C711.3 710.7 712.6 710.5 713.5 712.6C714.3 714.7 714.3 714.8 714.5 717.4C714.7 720 714.5 722.2 714.5 723.6" fill="none" stroke="#000" stroke-width="1.15" stroke-linejoin="round"/>
<path d="M467.6 430.1 L468.4 428.7 L470.9 427.5 L474 426.5 L475 426.8 L476.7 427.3 L478.8 427.5 L480.2 429 L481.2 430.4 L481.8 431.2 L480.9 432.4 L480.9 433.2 L481.6 434.3 L480.9 435.4 L481.9 436.8 L482.6 438.5 L484 438.9 L486.1 439.7 L487.1 439.1 L489.5 438.7 L490.9 439.1 L491.9 439.9 L493.7 439.7 L494.7 440.5 L496.4 441.6 L497.3 443.6 L497.5 445.5 L498.5 446.9 L497.7 445.5 L498.6 447.7 L498 448.8 L496.8 449.5 L495.5 448.8 L493.8 448.4 L489.3 448.5 L487.3 449.2 L485.2 450.5 L483.8 451.6 L481.8 452.4 L481.3 453.5 L481.6 454.4 L480.4 456 L479 456.4 L477.7 456 L475.9 456 L473.6 456.4 L472.4 455.7 L471.5 454.6 L469.1 453.2 L467.4 451.6 L466 450.7 L466.2 449.3 L467.4 448.2 L468.4 448.7 L469.3 449.9 L471.2 450.2 L473.6 450.5 L475.6 450.3 L476.3 449.9 L476.5 450.9 L475.9 451.4 L474.2 451.9 L472.2 451.6 L470.1 451 L469.8 449.6 L469.6 448.2 L469.4 446.3 L469.3 444.6 L469.8 443 L469.8 446.9 L469.3 445.5 L469.8 443.9 L470.9 442.7 L473.3 441.6 L475 441.5 L476.7 442.2 L477.1 443.3 L477.6 442.2 L478.3 439.9 L477.8 438.2 L476.4 436.8 L475.4 435.9 L476 434.9 L475 433.8 L472.9 431.8 L471.9 431.5 L470.2 432.5 L468.4 432.1 L467.6 431.2Z" fill="#fff"/>
<path d="M467.9 429.8 L468.6 428.7 L470.9 428.2 L473.3 427.6 L474.7 427 L476.4 427.6 L478.3 427.5 L479.2 428.7 L479.9 430.1 L480.9 431.2 L481.1 432.1 L479.9 432.2 L478.8 432.4 L478.5 433.8 L479.5 434.3 L480.7 434.3 L480.5 434.7 L479.5 434.9 L479.2 435.7 L478.5 436.6 L477.4 436.3 L476.4 436.6 L476 435.9 L476.7 434.9 L477.4 434.3 L476.7 433.2 L475.4 432.1 L474.3 431.2 L474 430 L472.8 429.7 L471.7 430.4 L470.9 431.5 L469.5 431 L468.3 430.4Z" fill="none" stroke="#000" stroke-width="1.05" stroke-linejoin="round"/>
<path d="M477.8 437.4 L478.5 436.7 L479.9 436.4 L481.2 436.6 L481.8 437.4 L480.9 438.4 L479.9 438.7 L478.5 438Z" fill="none" stroke="#000" stroke-width="1.05" stroke-linejoin="round"/>
<path d="M479.2 440.1 L480.9 439.7 L482.6 439.8 L483.3 439.1 L484.7 439.2 L484.3 440.5 L483.8 442.2 L484.2 443.9 L485 443 L485.4 441.3 L486.4 440.5 L487.1 441.1 L487.5 442.2 L488.8 441.9 L488.8 441.1 L487.5 441.3 L488.5 439.9 L489.2 438.9 L490.2 438.9 L490.6 439.9 L491.6 441.3 L492.6 441.6 L493 440.2 L493.7 439.9 L494.4 441.1 L495.4 442.5 L495.7 444.4 L496.4 445.8 L497.8 446.9 L498.4 447.5 L498.4 448.1 L496.8 448.2 L494.8 448.4 L494.1 447.5 L493.1 446.8 L491.4 447 L489.3 447 L487.6 447.5 L486.6 448.5 L485.2 449.2 L483.5 449.9 L482.5 450.7 L481.1 451.6 L479.9 452.7 L480.1 453.2 L481.1 453.7 L480.4 454.5 L480.1 455.2 L480.2 455.7 L479 455.7 L477.3 455.3 L475.3 455.5 L473.2 455.9 L472.4 455.2 L472.9 454.1 L471.5 453 L469.8 452.7 L468.4 451.9 L467.7 450.9 L466.2 450.6 L466 449.9 L466.9 448.9 L467.6 448.2 L468.1 448.5 L468.4 449.6 L469.4 450.7 L469.6 451.7 L470.3 452.1 L471 451.6 L472.7 452 L473.2 453.4 L473.9 453.2 L474.6 452 L475.3 451.7 L477.7 452.1 L478.2 451.3 L477.7 450.7 L478.7 449.9 L479 448.8 L478 448.8 L476.6 448.5 L475.3 448.9 L473.2 448.8 L471.2 448.5 L470.6 448 L471.2 447.7 L472.5 448 L473.6 447.4 L473.9 446.7 L474.6 446.4 L473.2 445.6 L471.5 446.3 L469.8 446.7 L469.8 446.3 L471.2 444.9 L471.5 444.1 L470.5 443.1 L472.5 442.5 L474.9 441.6 L475.3 442.7 L475.9 443.5 L475.8 444.5 L477 444.6 L477.5 445 L478.2 444.1 L478.7 443 L479.7 442.7 L479.5 441.3 L479.7 441.3Z" fill="none" stroke="#000" stroke-width="1.05" stroke-linejoin="round"/>
<path d="M450.4 446.6 L452.7 444.9 L455.7 445.2 L456.5 442.2 L458 440.7 L456.3 438.7 L457.7 436 L458.6 433.4 L460.4 431.3 L462.7 432.3 L464.2 433.4 L465.9 434 L463.3 435.5 L461.9 437.5 L462.7 439.9 L461.2 441.6 L461.9 444 L460.4 445.7 L458.6 445.2 L457.7 447.5 L454.5 447.3 L451.6 448Z" fill="#fff" stroke="#000" stroke-width="1.1" stroke-linejoin="round"/>
<path d="M477.3 417 L479.7 414.1 L483.2 414.7 L482 417 L479.1 418.4Z" fill="#fff" stroke="#000" stroke-width="1.1" stroke-linejoin="round"/>
<path d="M458.6 459.2 L462.1 457.5 L465.6 458 L463.9 460.4 L459.8 460.7Z" fill="#fff" stroke="#000" stroke-width="1.1" stroke-linejoin="round"/>
<path d="M454.5 482.7 L455.7 476.2 L458 475.6 L459.8 479.1 L462.1 480.3 L465.6 479.1 L465 481.3 L460.9 482.1 L457.4 483.2Z" fill="#fff" stroke="#000" stroke-width="1.1" stroke-linejoin="round"/>
<path d="M438.7 506.7 L442.2 504.9 L446.3 505.2 L445.1 508.4 L441 510.2Z" fill="#fff" stroke="#000" stroke-width="1.1" stroke-linejoin="round"/>
<path d="M458.2 496.7 L460.9 496.4 L462.3 498.1 L460.4 499.3 L458.6 498.1Z" fill="#fff" stroke="#000" stroke-width="1.1" stroke-linejoin="round"/>
<path d="M492.6 497.9 L494.3 497.3 L495.2 499.7 L493.5 500.8Z" fill="#fff" stroke="#000" stroke-width="1.1" stroke-linejoin="round"/>
<path d="M480 499.7 L481.4 499.3 L481.7 500.8 L480.3 501.2Z" fill="#fff" stroke="#000" stroke-width="1.1" stroke-linejoin="round"/>
<path d="M637.5 657 L640 653.5 L645 652.5 L643.5 656 L639.5 658.5Z" fill="#fff" stroke="#000" stroke-width="1.1" stroke-linejoin="round"/>
<circle cx="418.8" cy="474.5" r="2.7" fill="#fff"/>
<circle cx="493.2" cy="427" r="1.2" fill="#fff"/>
<circle cx="491.2" cy="430.2" r="1.2" fill="#fff"/>
<circle cx="478.8" cy="411.4" r="0.9" fill="#fff"/>
<circle cx="468.9" cy="420.5" r="0.8" fill="#000"/>
<circle cx="470.9" cy="436.7" r="0.8" fill="#000"/>
<circle cx="460.9" cy="431.4" r="0.9" fill="#000"/>
</g>
<path d="M474.3 423.5L698.4 335.3M475 465.8L697 611" stroke="#000" stroke-width="2" fill="none"/>
<defs><clipPath id="ic"><rect x="699" y="346.8" width="282.3" height="254.9"/></clipPath></defs>
<g id="inset" clip-path="url(#ic)">
<rect x="699" y="346.8" width="282.3" height="254.9" fill="#005dff"/>
<path d="M875.6 346.6C875.7 351.1 874.3 360.6 876.5 366.9C878.6 373.3 887.7 379.4 888.4 384.9C889.2 390.4 883.6 394.9 881 399.9C878.3 404.9 873.8 410.3 872.6 414.8C871.3 419.3 870.8 422.8 873.5 426.8C876.1 430.8 884.7 433.3 888.4 438.8C892.2 444.3 895.7 453.7 895.9 459.7C896.2 465.7 892.9 469.2 889.9 474.7C886.9 480.2 881.7 487.2 878 492.6C874.2 498.1 869 503.1 867.5 507.6C866 512.1 867.2 514.6 869 519.6C870.7 524.6 874.5 530.6 878 537.5C881.5 544.5 886.9 554.5 889.9 561.5C892.9 568.5 895.9 574 895.9 579.4C895.9 584.9 891.9 590.7 889.9 594.4C887.9 598.2 884.9 599.4 883.9 601.9C882.9 604.4 866.5 608.1 883.9 609.4C901.4 610.6 971.2 654.3 988.7 609.4C1006.2 564.5 1007.6 384.9 988.7 340C969.8 295.1 894.4 338.9 875.6 340C856.7 341.1 875.4 342.1 875.6 346.6Z" fill="#00b9ff"/>
<path d="M931.8 340C927.9 341.1 931.6 343.1 931.8 346.6C932.1 350.1 934.1 354.6 933.3 361C932.6 367.3 932.1 377.9 927.3 384.9C922.6 391.9 910.9 398.4 904.9 402.9C898.9 407.3 892.4 407.3 891.4 411.8C890.4 416.3 896.2 423.3 898.9 429.8C901.7 436.3 906.4 444.3 907.9 450.7C909.4 457.2 909.9 463.2 907.9 468.7C905.9 474.2 900.9 478.2 895.9 483.7C890.9 489.2 881.9 496.1 878 501.6C874 507.1 871 511.1 872 516.6C873 522.1 879.5 529.1 883.9 534.6C888.4 540 894.4 545 898.9 549.5C903.4 554 907.4 557 910.9 561.5C914.4 566 914.9 572 919.9 576.5C924.9 580.9 930.6 584.4 940.8 588.4C951 592.4 973.2 598.2 981.2 600.4C989.2 602.6 987.5 641.8 988.7 601.9C990 562 990 401.4 988.7 361C987.5 320.5 984.7 360.7 981.2 359.5C977.7 358.2 972 355.6 967.8 353.5C963.5 351.3 957.9 348.8 955.8 346.6C953.7 344.3 959.2 341.1 955.2 340C951.2 338.9 935.7 338.9 931.8 340Z" fill="#00ffe8"/>
<path d="M988.7 411.8C987.5 383.8 985.7 411.6 981.2 410.3C976.7 409.1 968 405.8 961.8 404.4C955.5 402.9 949.3 400.6 943.8 401.4C938.3 402.1 933.3 404.6 928.8 408.8C924.4 413.1 919.9 420.3 916.9 426.8C913.9 433.3 910.9 441.8 910.9 447.8C910.9 453.7 916.9 457.7 916.9 462.7C916.9 467.7 914.4 473.2 910.9 477.7C907.4 482.2 900.7 485.2 895.9 489.7C891.2 494.1 884.9 500.1 882.4 504.6C880 509.1 879.7 512.1 881 516.6C882.2 521.1 885.9 526.6 889.9 531.6C893.9 536.5 898.9 541.5 904.9 546.5C910.9 551.5 918.4 557.3 925.8 561.5C933.3 565.7 940.6 569.2 949.8 572C959 574.7 974.7 576.9 981.2 578C987.7 579.1 987.5 606.2 988.7 578.6C990 550.9 990 439.9 988.7 411.8Z" fill="#00ff8b"/>
<path d="M988.7 431.3C987.5 419.4 985.7 431.3 981.2 429.8C976.7 428.3 969 423.8 961.8 422.3C954.5 420.8 943.8 419.8 937.8 420.8C931.8 421.8 928.1 425.1 925.8 428.3C923.6 431.5 922.9 437.8 924.4 440.3C925.8 442.8 934.8 440 934.8 443.3C934.8 446.5 927.1 454.5 924.4 459.7C921.6 465 921.6 469.7 918.4 474.7C915.1 479.7 908.4 483.7 904.9 489.7C901.4 495.6 897.9 504.6 897.4 510.6C896.9 516.6 898.7 520.6 901.9 525.6C905.1 530.6 910.9 536 916.9 540.5C922.9 545 930.3 549.5 937.8 552.5C945.3 555.5 955.8 556.8 961.8 558.5C967.8 560.2 970.5 562.5 973.7 563C977 563.5 978.7 561.8 981.2 561.5C983.7 561.1 987.5 565.9 988.7 560.9C990 555.9 990 536.4 988.7 531.6C987.5 526.7 984 532.3 981.2 531.6C978.5 530.8 974.7 529.6 972.2 527.1C969.7 524.6 966.3 520.1 966.3 516.6C966.3 513.1 969.7 508.6 972.2 506.1C974.7 503.6 978.5 502.5 981.2 501.6C984 500.8 987.5 512.8 988.7 501C990 489.3 990 443.2 988.7 431.3Z" fill="#00ff2e"/>
<path d="M988.7 441.2C987.5 434.2 985.7 441.4 981.2 441.8C976.7 442.1 968 441.5 961.8 443.3C955.5 445 948 449.5 943.8 452.2C939.6 455 936.8 457 936.3 459.7C935.8 462.5 942.8 465.7 940.8 468.7C938.8 471.7 929.6 474.7 924.4 477.7C919.1 480.7 913.6 481.2 909.4 486.7C905.1 492.2 899.7 504.1 898.9 510.6C898.2 517.1 901.7 520.8 904.9 525.6C908.1 530.3 912.9 535.1 918.4 539C923.9 543 931.1 547 937.8 549.5C944.6 552 953 554.5 958.8 554C964.5 553.5 971.7 549.8 972.2 546.5C972.7 543.3 964.5 539 961.8 534.6C959 530.1 955.3 524.8 955.8 519.6C956.3 514.3 961.3 508.1 964.8 503.1C968.3 498.1 974 492.6 976.7 489.7C979.5 486.7 979.2 486.2 981.2 485.2C983.2 484.2 987.5 491 988.7 483.7C990 476.3 990 448.2 988.7 441.2Z" fill="#2eff00"/>
<path d="M926.4 531.6C926.9 528.8 930.7 524.6 933.3 524.1C936 523.6 939.6 526.3 942.3 528.6C945.1 530.8 948.3 534.8 949.8 537.5C951.3 540.3 952.8 543.6 951.3 545C949.8 546.4 944.3 546.7 940.8 545.9C937.3 545.2 932.7 542.9 930.3 540.5C927.9 538.1 925.9 534.3 926.4 531.6Z" fill="#8bff00"/>
<path d="M924.4 485.2C924.4 482.7 928.8 480 931.8 479.2C934.8 478.3 939.8 479.1 942.3 480.1C944.8 481.1 947 483.1 946.8 485.2C946.6 487.3 943.3 491.2 940.8 492.6C938.3 494.1 934.6 495.4 931.8 494.1C929.1 492.9 924.4 487.7 924.4 485.2Z" fill="#00ff8b"/>
<path d="M695 538.2C695.6 534.3 696.2 538.4 698.5 539.1C700.9 539.8 705.3 540.6 709.1 542.6C712.9 544.7 717.7 548.2 721.4 551.4C725 554.6 729.6 559.3 731 562C732.5 564.6 731.8 566.2 730.2 567.2C728.5 568.2 724.6 568.4 721.4 568.1C718.1 567.8 714.6 566.3 710.8 565.5C707 564.6 701.2 563.3 698.5 562.8C695.9 562.4 695.6 566.9 695 562.8C694.4 558.7 694.4 542.2 695 538.2Z" fill="#00b9ff"/>
<path d="M695 545.8C695.6 544.2 696.5 545.9 698.5 546.1C700.6 546.3 704.4 545.8 707.3 547C710.2 548.2 714.2 551 716.1 553.2C718 555.4 719 558.6 718.7 560.2C718.4 561.8 716.2 563.1 714.3 562.8C712.4 562.5 709.9 559.6 707.3 558.4C704.7 557.3 700.6 556.2 698.5 555.8C696.5 555.4 695.6 557.5 695 555.8C694.4 554.1 694.4 547.4 695 545.8Z" fill="#00ffe8"/>
<path d="M695 548.8C695.9 548 698.2 548.1 700.3 548.4C702.3 548.7 705.1 549.3 707.3 550.5C709.5 551.8 712.3 554.2 713.5 555.8C714.6 557.4 714.7 559.5 714 559.8C713.3 560.1 711.3 558.7 709.1 557.6C706.8 556.4 702.6 554 700.3 553.2C697.9 552.4 695.9 553.5 695 552.8C694.1 552.1 694.1 549.5 695 548.8Z" fill="#00ffe8"/>
<path d="M695 583C695.6 579.8 696.8 584.8 698.5 586.6C700.3 588.3 703.3 591.1 705.5 593.6C707.7 596.1 710.7 599.5 711.7 601.5C712.7 603.6 714.5 605.2 711.7 605.9C708.9 606.6 697.8 609.7 695 605.9C692.2 602.1 694.4 586.3 695 583Z" fill="#00b9ff"/>
<path d="M695 591C695.6 588.9 697.1 591.8 698.5 593.6C700 595.3 702.9 599.5 703.8 601.5C704.7 603.6 705.3 605.2 703.8 605.9C702.3 606.6 696.5 608.4 695 605.9C693.5 603.4 694.4 593 695 591Z" fill="#00ffe8"/>
<path d="M852.8 346.8 L862.6 346.8 L861.7 348.2 L856.4 348.9Z" fill="#00b9ff"/>
<path d="M710.1 389.3 L714.5 380.5 L726.9 372.5 L742.9 366.3 L748.2 368.1 L757.1 371.6 L767.7 372.5 L774.8 382.2 L780.1 391.1 L782.8 396.4 L778.3 403.5 L778.3 408.8 L781.9 415.9 L778.3 423 L783.7 431.9 L787.2 442.5 L794.3 445.2 L804.9 449.6 L810.3 446.1 L822.7 443.4 L829.8 446.1 L835.1 451.4 L844 449.6 L849.3 454.9 L858.1 462 L862.6 474.5 L863.5 486.9 L868.8 495.7 L864.6 486.4 L869 500.4 L866.4 507.5 L860.2 511.9 L853.2 507.5 L844.4 504.8 L821.6 505.7 L811 510.1 L800.5 518 L793.4 525 L782.9 530.3 L780.3 537.3 L782 542.6 L775.9 553.2 L768.8 555.8 L761.8 553.2 L753 553.2 L740.7 555.8 L734.6 551.4 L730.2 544.4 L717.9 535.6 L709.1 525 L702 519.8 L702.9 511 L709.1 503.9 L714.3 506.6 L718.7 514.5 L728.4 516.2 L740.7 518 L751.2 517.1 L754.8 514.5 L755.6 520.6 L753 524.2 L744.2 526.8 L733.7 525 L723.1 521.5 L721.4 512.7 L720.5 503.9 L719.6 491.6 L718.7 481.1 L721.4 470.5 L721.6 495.7 L718.9 486.9 L721.6 476.2 L726.9 469.1 L739.3 462 L748.2 461.2 L757.1 465.6 L758.8 472.7 L761.5 465.6 L765 451.4 L762.4 440.8 L755.3 431.9 L750 425.7 L753.5 419.5 L748.2 412.4 L737.6 400 L732.2 398.2 L723.4 404.4 L714.5 401.7 L710.1 396.4Z" fill="#fff"/>
<path d="M848.2 371.2 L844 375.4 L838.2 373.8 L836.6 368 L840.8 363.8 L846.6 365.4Z" fill="#fff"/>
<path d="M835.9 390 L833.2 394.3 L827.8 394.3 L825.1 390 L827.8 385.7 L833.2 385.7Z" fill="#fff"/>
<path d="M727.3 433.7 L731.4 428 L736.1 432.8 L735.4 435.8 L729.6 435.8Z" fill="#fff"/>
<path d="M695 411 L698.9 411 L703.9 410.3 L706 414.2 L703.9 420.4 L698.9 423.9 L695 423.9Z" fill="#fff"/>
<path d="M695 562.8 L698.5 562.8 L705.5 564.6 L709.4 567.2 L707.3 572.5 L702.9 576.9 L698.5 579.9 L695 579.9Z" fill="#fff"/>
<path d="M717.9 508.3 L721.4 512.7 L728.4 516.2 L740.7 518 L751.2 517.1 L755.1 514.1 L756 520.6 L753 524.5 L744.2 527.1 L733.7 525.4 L723.1 521.9 L718.7 516.2 L715.2 507.5Z" fill="#005dff"/>
<path d="M711.8 387.6C712.3 384.7 711.4 383.3 715.4 380.5C719.4 377.6 720.5 378.8 726.9 376.9C733.3 375 734.1 375.3 739.3 373.4C744.5 371.5 742.2 369.8 746.4 369.8C750.7 369.8 750.3 372.7 755.3 373.4C760.3 374.1 761.3 370.6 765 372.5C768.8 374.4 767.4 376 769.5 380.5C771.6 385 770.7 385.1 773 389.3C775.4 393.6 776.7 393.1 778.3 396.4C780 399.7 780.7 400.1 779.2 401.7C777.8 403.4 776.1 402.2 773 402.6C770 403.1 769.6 400.9 767.7 403.5C765.8 406.1 765 409.1 765.9 412.4C766.9 415.7 768.2 415 771.3 415.9C774.3 416.9 776 415.2 777.5 415.9C778.9 416.6 778.2 417.6 776.6 418.6C774.9 419.5 773.1 417.8 771.3 419.5C769.4 421.1 770.9 422 769.5 424.8C768.1 427.6 768.3 429.2 765.9 430.1C763.6 431.1 763.5 428.3 760.6 428.3C757.8 428.3 757.2 430.8 755.3 430.1C753.4 429.4 753 428.5 753.5 425.7C754 422.9 755.2 422.1 757.1 419.5C759 416.9 760.6 418.8 760.6 415.9C760.6 413.1 759.9 412.6 757.1 408.8C754.2 405.1 753.3 405.1 750 401.7C746.7 398.4 746.5 400 744.7 396.4C742.8 392.9 745 391 742.9 388.4C740.8 385.8 739.7 386 736.7 386.7C733.6 387.4 734 388 731.4 391.1C728.8 394.2 730 397.3 726.9 398.2C723.8 399.1 723.4 396.5 719.8 394.7C716.3 392.8 715.7 393 713.6 391.1C711.5 389.2 711.4 390.4 711.8 387.6Z" fill="none" stroke="#000" stroke-width="1.25" stroke-linejoin="round"/>
<path d="M762.4 435.4C762.4 433.3 763.1 432.7 765.9 431C768.8 429.4 769.2 429.5 773 429.2C776.8 429 777.5 428.5 780.1 430.1C782.7 431.8 783.3 432.4 782.8 435.4C782.3 438.5 780.9 439.5 778.3 441.6C775.7 443.8 776.3 444.1 773 443.4C769.7 442.7 768.8 441.1 765.9 439C763.1 436.9 762.4 437.6 762.4 435.4Z" fill="none" stroke="#000" stroke-width="1.25" stroke-linejoin="round"/>
<path d="M769.5 452.3C771.1 449.5 773.6 450.1 778.3 449.6C783.1 449.2 783.9 451.5 787.2 450.5C790.5 449.6 787.9 447 790.8 446.1C793.6 445.1 796.4 444.6 797.9 447C799.3 449.3 797.3 450 796.1 454.9C794.9 459.9 793.7 459.9 793.4 465.6C793.2 471.3 793.5 474.8 795.2 476.2C796.9 477.6 798 475.2 799.6 470.9C801.3 466.7 799.5 464.5 801.4 460.3C803.3 456 804.4 455.4 806.7 454.9C809.1 454.5 808.8 455.7 810.3 458.5C811.7 461.3 809.7 464.2 812 465.6C814.4 467 817.2 465.7 819.1 463.8C821 461.9 821 459.4 819.1 458.5C817.2 457.5 812.5 462.2 812 460.3C811.6 458.4 815 455.4 817.4 451.4C819.7 447.4 818.5 446.9 820.9 445.2C823.3 443.5 824.3 443.5 826.2 445.2C828.1 446.9 826.1 447.4 828 451.4C829.9 455.4 830.5 457.4 833.3 460.3C836.2 463.1 836.8 463.9 838.6 462C840.5 460.2 839 456 840.4 453.2C841.8 450.3 842.1 450 844 451.4C845.9 452.8 845.1 454.2 847.5 458.5C849.9 462.8 850.9 461.7 852.8 467.4C854.7 473 853.2 474.1 854.6 479.8C856 485.5 855.3 484.4 858.1 488.6C861 492.9 862.6 493 865.2 495.7C867.9 498.5 867.4 497.1 868.1 499C868.9 501 870.3 501.8 868.1 503.1C866 504.4 865.2 503.5 860.2 503.9C855.3 504.4 853.4 506 849.7 504.8C845.9 503.7 848.5 502.1 846.2 499.6C843.8 497 844.6 496.1 840.9 495.2C837.1 494.2 837.3 495.8 832.1 496C827 496.3 826.7 495.1 821.6 496C816.4 497 816.5 497 812.8 499.6C809 502.1 810.8 502.9 807.5 505.7C804.2 508.5 804.7 507.8 800.5 510.1C796.2 512.4 795.4 511.9 791.7 514.5C787.9 517.1 789.7 517 786.4 519.8C783.1 522.6 782.9 521.8 779.4 525C775.9 528.3 774.6 529.3 773.2 532.1C771.8 534.9 772.5 533.9 774.1 535.6C775.7 537.2 778.9 536.1 779.4 538.2C779.8 540.3 777.3 540.9 775.9 543.5C774.5 546.1 774.3 545.8 774.1 547.9C773.9 550 776.4 550.5 775 551.4C773.6 552.3 772.8 552.1 768.8 551.4C764.8 550.7 765.2 549.2 760 548.8C754.9 548.3 755.1 548.7 749.5 549.6C743.9 550.6 742.9 552.8 738.9 552.3C735 551.8 735 550.9 734.6 547.9C734.1 544.8 738.4 544.6 737.2 540.9C736 537.1 734.4 536.2 730.2 533.8C725.9 531.5 725.6 533.9 721.4 532.1C717.1 530.2 717.1 529.8 714.3 526.8C711.5 523.7 713.9 522.8 710.8 520.6C707.8 518.5 705.3 520.5 702.9 518.9C700.6 517.2 701.1 517.3 702 514.5C703 511.7 704.3 511.2 706.4 508.3C708.5 505.5 708.3 504.6 709.9 503.9C711.6 503.2 711.4 503.4 712.6 505.7C713.7 508 712.5 509 714.3 512.7C716.2 516.5 718 516.2 719.6 519.8C721.2 523.3 719.3 523.6 720.5 525.9C721.7 528.3 722.1 528.8 724 528.6C725.9 528.3 724.2 525.3 727.5 525C730.8 524.8 733.3 524.6 736.3 527.7C739.4 530.7 737.3 534.4 738.9 536.5C740.6 538.6 740.6 537.9 742.5 535.6C744.3 533.2 744.1 530.3 746 527.7C747.9 525.1 745.3 525.7 749.5 525.9C753.7 526.2 757.8 529.3 761.8 528.6C765.8 527.9 764.4 525.6 764.4 523.3C764.4 520.9 761.1 522.1 761.8 519.8C762.5 517.4 765.2 517.8 767.1 514.5C768.9 511.2 769.8 509.3 768.8 507.5C767.9 505.6 766.8 507.9 763.6 507.5C760.3 507 760.3 505.5 756.5 505.7C752.8 505.9 754.2 507.9 749.5 508.3C744.8 508.8 744.6 508.2 738.9 507.5C733.3 506.8 731.9 507.1 728.4 505.7C724.9 504.3 725.8 503.6 725.8 502.2C725.8 500.8 725.8 500.4 728.4 500.4C731 500.4 732.1 502.7 735.4 502.2C738.7 501.7 738.8 500.8 740.7 498.7C742.6 496.6 741.1 495.9 742.5 494.3C743.9 492.6 746.9 494.4 746 492.5C745 490.6 743.2 487.5 738.9 487.2C734.7 487 734.8 489.8 730.2 491.6C725.5 493.5 723.7 494.3 721.4 494.3C719 494.3 719.5 494.7 721.4 491.6C723.2 488.6 726.1 486.6 728.4 482.9C730.7 479.1 731.1 480.6 730.2 477.6C729.2 474.5 723.5 474 724.9 471.4C726.3 468.8 729.3 470.5 735.4 467.9C741.5 465.3 744 461.5 747.7 461.8C751.5 462 748.1 465.5 749.5 468.8C750.9 472.1 752.3 471 753 474.1C753.7 477.1 750.7 478.3 752.1 480.2C753.5 482.1 755.9 480.2 758.3 481.1C760.6 482 759.3 484.7 760.9 483.7C762.6 482.8 762.8 481.1 764.4 477.6C766.1 474.1 765 472.9 767.1 470.5C769.2 468.2 771.2 471.6 772.3 468.8C773.5 466 771.5 462.3 771.5 460C771.4 457.7 772.7 462.3 772.1 460.3C771.6 458.2 767.8 455.1 769.5 452.3Z" fill="none" stroke="#000" stroke-width="1.25" stroke-linejoin="round"/>
<path d="M727.8 433.1C728.3 431.4 729.5 428.4 731.4 428.3C733.2 428.3 734.4 431 734.9 432.8C735.4 434.6 734.5 434.5 733.1 435.1C731.7 435.7 731 435.4 729.6 434.9C728.2 434.4 727.3 434.9 727.8 433.1Z" fill="none" stroke="#000" stroke-width="1.25" stroke-linejoin="round"/>
<path d="M698.9 413.3C700 412.8 701.4 411.2 703 411.5C704.5 411.8 705.2 412.9 704.8 414.5C704.3 416.2 702.8 416.5 701.2 417.7C699.6 418.9 699.5 418.7 698.9 419.1" fill="none" stroke="#000" stroke-width="1.25" stroke-linejoin="round"/>
<path d="M698.5 564.1C699.7 564 701.1 563.1 702.9 563.7C704.7 564.3 705.4 565 705.2 566.3C705 567.7 703.8 567.8 702 568.6C700.2 569.4 699.5 569.1 698.5 569.3" fill="none" stroke="#000" stroke-width="1.25" stroke-linejoin="round"/>
</g>
<rect x="699" y="346.8" width="282.3" height="254.9" fill="none" stroke="#000" stroke-width="1.2"/>
<path d="M699 455h3.5M699 562.7h3.5M774 601.7v-3.5M882.7 601.7v-3.5" stroke="#000" stroke-width="1.2" fill="none"/>
<path d="M699 368.8h2M699 390.4h2M699 411.9h2M699 433.5h2M699 476.5h2M699 498.1h2M699 519.6h2M699 541.2h2M699 584.2h2M708.8 601.7v-2M730.5 601.7v-2M752.3 601.7v-2M795.7 601.7v-2M817.5 601.7v-2M839.2 601.7v-2M861 601.7v-2M904.4 601.7v-2M926.2 601.7v-2M947.9 601.7v-2M969.7 601.7v-2" stroke="#000" stroke-width="0.8" fill="none"/>
<text transform="translate(694.9 351.4) scale(1.05 1)" font-size="7.9" text-anchor="end">23.7</text>
<text transform="translate(694.9 458.7) scale(1.05 1)" font-size="7.9" text-anchor="end">23.6</text>
<text transform="translate(694.9 566.4) scale(1.05 1)" font-size="7.9" text-anchor="end">23.5</text>
<text transform="translate(774 611) scale(1.05 1)" font-size="7.9" text-anchor="middle">119.6</text>
<text transform="translate(882.7 611) scale(1.05 1)" font-size="7.9" text-anchor="middle">119.7</text>
<g id="legend">
<rect x="165" y="117.5" width="585.5" height="47.5" fill="#fff"/>
<text transform="translate(184.6 106.8) scale(1.05 1)" font-size="26.4" text-anchor="start">Power density (kW/m<tspan font-size="16.5" dy="-14.6">2</tspan><tspan dy="14.6">)</tspan></text>
<rect x="173.6" y="118" width="25.9" height="25.7" fill="#0000ff"/>
<rect x="199.2" y="118" width="51.5" height="25.7" fill="#005dff"/>
<rect x="250.5" y="118" width="51.6" height="25.7" fill="#00b9ff"/>
<rect x="301.7" y="118" width="51.5" height="25.7" fill="#00ffe8"/>
<rect x="353" y="118" width="51.5" height="25.7" fill="#00ff8b"/>
<rect x="404.2" y="118" width="51.5" height="25.7" fill="#00ff2e"/>
<rect x="455.5" y="118" width="51.5" height="25.7" fill="#2eff00"/>
<rect x="506.7" y="118" width="51.5" height="25.7" fill="#8bff00"/>
<rect x="558" y="118" width="51.5" height="25.7" fill="#e8ff00"/>
<rect x="609.2" y="118" width="51.5" height="25.7" fill="#ffb900"/>
<rect x="660.5" y="118" width="51.5" height="25.7" fill="#ff5d00"/>
<rect x="711.7" y="118" width="25.9" height="25.7" fill="#ff0000"/>
<path d="M199.2 118V143.7M250.5 118V143.7M301.7 118V143.7M353 118V143.7M404.2 118V143.7M455.5 118V143.7M506.7 118V143.7M558 118V143.7M609.2 118V143.7M660.5 118V143.7M711.7 118V143.7" stroke="#000" stroke-opacity="0.75" stroke-width="0.9" fill="none"/>
<rect x="173.6" y="118" width="563.8" height="25.7" fill="none" stroke="#222" stroke-opacity="0.6" stroke-width="0.8"/>
<text transform="translate(199.2 164.6) scale(1.05 1)" font-size="17" text-anchor="middle">0.00</text>
<text transform="translate(250.5 164.6) scale(1.05 1)" font-size="17" text-anchor="middle">0.10</text>
<text transform="translate(301.7 164.6) scale(1.05 1)" font-size="17" text-anchor="middle">0.20</text>
<text transform="translate(353 164.6) scale(1.05 1)" font-size="17" text-anchor="middle">0.30</text>
<text transform="translate(404.2 164.6) scale(1.05 1)" font-size="17" text-anchor="middle">0.40</text>
<text transform="translate(455.5 164.6) scale(1.05 1)" font-size="17" text-anchor="middle">0.50</text>
<text transform="translate(506.7 164.6) scale(1.05 1)" font-size="17" text-anchor="middle">0.60</text>
<text transform="translate(558 164.6) scale(1.05 1)" font-size="17" text-anchor="middle">0.70</text>
<text transform="translate(609.2 164.6) scale(1.05 1)" font-size="17" text-anchor="middle">0.80</text>
<text transform="translate(660.5 164.6) scale(1.05 1)" font-size="17" text-anchor="middle">0.90</text>
<text transform="translate(711.7 164.6) scale(1.05 1)" font-size="17" text-anchor="middle">1.00</text>
</g>
<g id="axes">
<rect x="141.2" y="31.8" width="847.1" height="766.4" fill="none" stroke="#000" stroke-width="3.6"/>
<path d="M141.2 798.2h9.8M141.2 713h9.8M141.2 627.9h9.8M141.2 542.7h9.8M141.2 457.6h9.8M141.2 372.4h9.8M141.2 287.3h9.8M141.2 202.1h9.8M141.2 117h9.8M141.2 31.8h9.8M141.2 798.2v-9.2M247.1 798.2v-9.2M353 798.2v-9.2M458.9 798.2v-9.2M564.8 798.2v-9.2M670.6 798.2v-9.2M776.5 798.2v-9.2M882.4 798.2v-9.2M988.3 798.2v-9.2" stroke="#000" stroke-width="3.5" fill="none"/>
<path d="M141.2 781.2h5.4M141.2 764.1h5.4M141.2 747.1h5.4M141.2 730.1h5.4M141.2 696h5.4M141.2 679h5.4M141.2 662h5.4M141.2 644.9h5.4M141.2 610.9h5.4M141.2 593.8h5.4M141.2 576.8h5.4M141.2 559.8h5.4M141.2 525.7h5.4M141.2 508.7h5.4M141.2 491.6h5.4M141.2 474.6h5.4M141.2 440.5h5.4M141.2 423.5h5.4M141.2 406.5h5.4M141.2 389.5h5.4M141.2 355.4h5.4M141.2 338.4h5.4M141.2 321.3h5.4M141.2 304.3h5.4M141.2 270.2h5.4M141.2 253.2h5.4M141.2 236.2h5.4M141.2 219.1h5.4M141.2 185.1h5.4M141.2 168h5.4M141.2 151h5.4M141.2 134h5.4M141.2 99.9h5.4M141.2 82.9h5.4M141.2 65.9h5.4M141.2 48.8h5.4M162.4 798.2v-4.6M183.6 798.2v-4.6M204.7 798.2v-4.6M225.9 798.2v-4.6M268.3 798.2v-4.6M289.4 798.2v-4.6M310.6 798.2v-4.6M331.8 798.2v-4.6M374.2 798.2v-4.6M395.3 798.2v-4.6M416.5 798.2v-4.6M437.7 798.2v-4.6M480 798.2v-4.6M501.2 798.2v-4.6M522.4 798.2v-4.6M543.6 798.2v-4.6M585.9 798.2v-4.6M607.1 798.2v-4.6M628.3 798.2v-4.6M649.5 798.2v-4.6M691.8 798.2v-4.6M713 798.2v-4.6M734.2 798.2v-4.6M755.3 798.2v-4.6M797.7 798.2v-4.6M818.9 798.2v-4.6M840.1 798.2v-4.6M861.2 798.2v-4.6M903.6 798.2v-4.6M924.8 798.2v-4.6M945.9 798.2v-4.6M967.1 798.2v-4.6" stroke="#000" stroke-width="2" fill="none"/>
<text transform="translate(130 806.6) scale(1.05 1)" font-size="24" text-anchor="end">21.5</text>
<text transform="translate(130 721.4) scale(1.05 1)" font-size="24" text-anchor="end">22.0</text>
<text transform="translate(130 636.3) scale(1.05 1)" font-size="24" text-anchor="end">22.5</text>
<text transform="translate(130 551.1) scale(1.05 1)" font-size="24" text-anchor="end">23.0</text>
<text transform="translate(130 466) scale(1.05 1)" font-size="24" text-anchor="end">23.5</text>
<text transform="translate(130 380.8) scale(1.05 1)" font-size="24" text-anchor="end">24.0</text>
<text transform="translate(130 295.7) scale(1.05 1)" font-size="24" text-anchor="end">24.5</text>
<text transform="translate(130 210.5) scale(1.05 1)" font-size="24" text-anchor="end">25.0</text>
<text transform="translate(130 125.4) scale(1.05 1)" font-size="24" text-anchor="end">25.5</text>
<text transform="translate(130 40.2) scale(1.05 1)" font-size="24" text-anchor="end">26.0</text>
<text transform="translate(141.7 824.6) scale(1.05 1)" font-size="24" text-anchor="middle">118</text>
<text transform="translate(247.6 824.6) scale(1.05 1)" font-size="24" text-anchor="middle">118.5</text>
<text transform="translate(353.5 824.6) scale(1.05 1)" font-size="24" text-anchor="middle">119</text>
<text transform="translate(459.4 824.6) scale(1.05 1)" font-size="24" text-anchor="middle">119.5</text>
<text transform="translate(565.2 824.6) scale(1.05 1)" font-size="24" text-anchor="middle">120</text>
<text transform="translate(671.1 824.6) scale(1.05 1)" font-size="24" text-anchor="middle">120.5</text>
<text transform="translate(777 824.6) scale(1.05 1)" font-size="24" text-anchor="middle">121</text>
<text transform="translate(882.9 824.6) scale(1.05 1)" font-size="24" text-anchor="middle">121.5</text>
<text transform="translate(988.8 824.6) scale(1.05 1)" font-size="24" text-anchor="middle">122</text>
<text transform="translate(564.8 872.2) scale(0.968 1)" font-size="37.0" text-anchor="middle">Longitude (<tspan font-size="24" dy="-17.8">o</tspan><tspan dy="17.8">E)</tspan></text>
<text transform="translate(61.6 414.4) rotate(-90) scale(0.952 1)" font-size="37.2" text-anchor="middle">Latitude (<tspan font-size="24" dy="-17.8">o</tspan><tspan dy="17.8">N)</tspan></text>
</g>
</svg></body></html>
